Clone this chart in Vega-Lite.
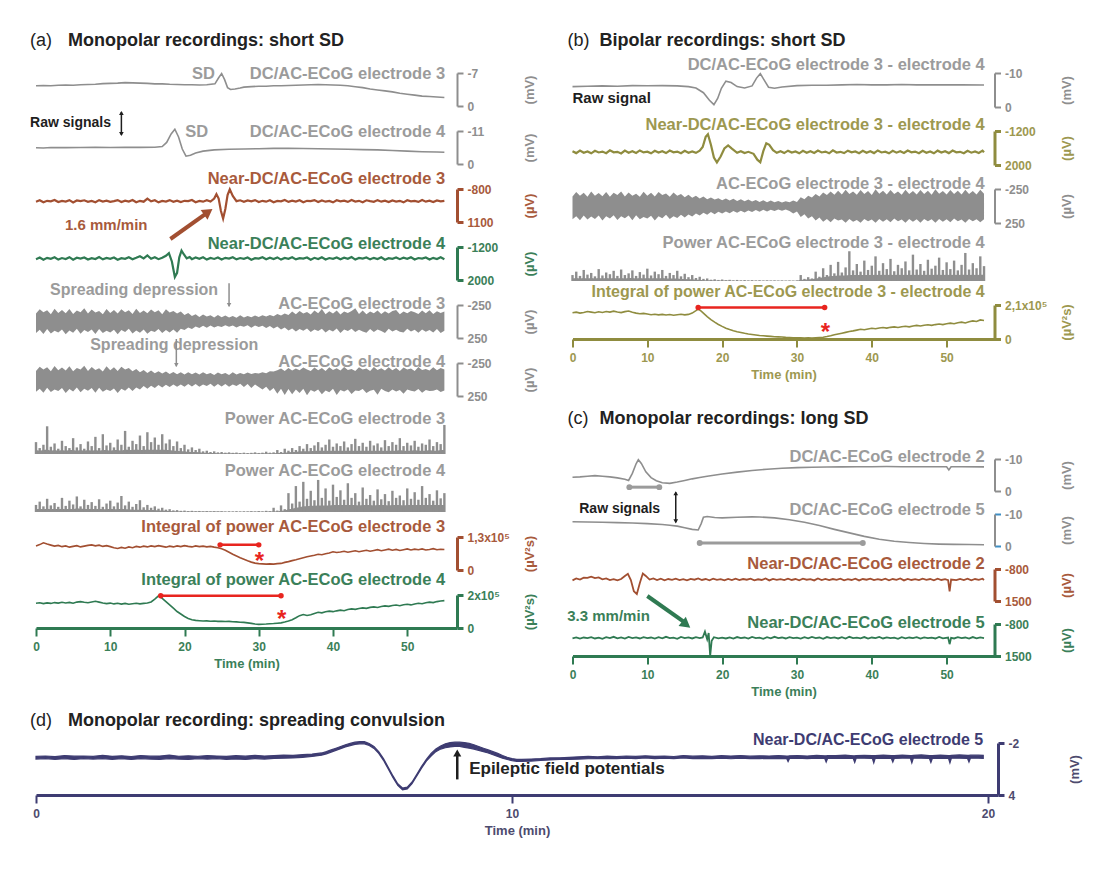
{
"$schema":"https://vega.github.io/schema/vega-lite/v6.json",
"padding":{"left":30,"top":31,"right":5,"bottom":5},
"background":"white",
"spacing":13,
"datasets":{
"a1":[{"t":0,"v":-4.3},{"t":1,"v":-4.35},{"t":2,"v":-4.3},{"t":3,"v":-4.4},{"t":4,"v":-4.45},{"t":5,"v":-4.4},{"t":6,"v":-4.5},{"t":7,"v":-4.55},{"t":8,"v":-4.6},{"t":9,"v":-4.75},{"t":10,"v":-4.8},{"t":11,"v":-4.85},{"t":12,"v":-4.95},{"t":13,"v":-4.9},{"t":14,"v":-4.85},{"t":15,"v":-4.8},{"t":16,"v":-4.7},{"t":17,"v":-4.7},{"t":18,"v":-4.6},{"t":19,"v":-4.55},{"t":20,"v":-4.5},{"t":21,"v":-4.5},{"t":22,"v":-4.45},{"t":23,"v":-4.5},{"t":24.1,"v":-4.7},{"t":24.6,"v":-6.0},{"t":25,"v":-6.9},{"t":25.4,"v":-5.6},{"t":25.8,"v":-3.9},{"t":26.2,"v":-3.5},{"t":26.8,"v":-3.6},{"t":27.5,"v":-3.8},{"t":28,"v":-4.0},{"t":29,"v":-4.1},{"t":30,"v":-4.2},{"t":31,"v":-4.2},{"t":32,"v":-4.3},{"t":33,"v":-4.3},{"t":34,"v":-4.35},{"t":35,"v":-4.4},{"t":36,"v":-4.45},{"t":37,"v":-4.5},{"t":38,"v":-4.55},{"t":39,"v":-4.5},{"t":40,"v":-4.45},{"t":41,"v":-4.4},{"t":42,"v":-4.3},{"t":43,"v":-4.1},{"t":44,"v":-3.9},{"t":45,"v":-3.6},{"t":46,"v":-3.4},{"t":47,"v":-3.2},{"t":48,"v":-3.0},{"t":49,"v":-2.7},{"t":50,"v":-2.5},{"t":51,"v":-2.3},{"t":52,"v":-2.1},{"t":53,"v":-2.0},{"t":54,"v":-1.9},{"t":55,"v":-1.8}],
"a2":[{"t":0,"v":-5.4},{"t":1,"v":-5.35},{"t":2,"v":-5.5},{"t":3,"v":-5.45},{"t":4,"v":-5.45},{"t":6,"v":-5.5},{"t":8,"v":-5.55},{"t":10,"v":-5.5},{"t":12,"v":-5.6},{"t":14,"v":-5.55},{"t":16,"v":-5.6},{"t":17,"v":-5.8},{"t":17.6,"v":-7.2},{"t":18.2,"v":-10.0},{"t":18.7,"v":-11.6},{"t":19.2,"v":-9.0},{"t":19.7,"v":-5.0},{"t":20.2,"v":-2.6},{"t":20.8,"v":-2.9},{"t":21.5,"v":-3.7},{"t":22.5,"v":-4.3},{"t":24,"v":-4.7},{"t":26,"v":-4.9},{"t":28,"v":-5.0},{"t":30,"v":-5.1},{"t":32,"v":-5.2},{"t":34,"v":-5.2},{"t":36,"v":-5.15},{"t":38,"v":-5.1},{"t":40,"v":-5.0},{"t":42,"v":-4.9},{"t":44,"v":-4.8},{"t":46,"v":-4.7},{"t":48,"v":-4.5},{"t":50,"v":-4.3},{"t":52,"v":-4.1},{"t":54,"v":-4.0},{"t":55,"v":-3.9}],
"a3":[{"t":0,"v":-70},{"t":0.5,"v":-150},{"t":1,"v":-40},{"t":1.5,"v":-120},{"t":2,"v":-90},{"t":2.5,"v":-170},{"t":3,"v":-50},{"t":3.5,"v":-110},{"t":4,"v":-80},{"t":4.5,"v":-160},{"t":5,"v":-30},{"t":5.5,"v":-140},{"t":6,"v":-100},{"t":6.5,"v":-150},{"t":7,"v":-60},{"t":7.5,"v":-110},{"t":8,"v":-40},{"t":8.5,"v":-160},{"t":9,"v":-80},{"t":9.5,"v":-130},{"t":10,"v":-60},{"t":10.5,"v":-100},{"t":11,"v":-160},{"t":11.5,"v":-50},{"t":12,"v":-130},{"t":12.5,"v":-80},{"t":13,"v":-170},{"t":13.5,"v":-40},{"t":14,"v":-120},{"t":14.5,"v":-70},{"t":15,"v":-250},{"t":15.5,"v":-90},{"t":16,"v":-150},{"t":16.5,"v":-30},{"t":17,"v":-110},{"t":17.5,"v":-80},{"t":18,"v":-160},{"t":18.5,"v":-60},{"t":19,"v":-130},{"t":19.5,"v":-50},{"t":20,"v":-120},{"t":20.5,"v":-100},{"t":21,"v":-170},{"t":21.5,"v":-40},{"t":22,"v":-110},{"t":22.5,"v":-70},{"t":23,"v":-150},{"t":23.5,"v":-80},{"t":24,"v":-250},{"t":24.3,"v":-500},{"t":24.6,"v":-250},{"t":24.9,"v":450},{"t":25.2,"v":900},{"t":25.5,"v":350},{"t":25.8,"v":-450},{"t":26.1,"v":-780},{"t":26.5,"v":-400},{"t":27,"v":-100},{"t":27.5,"v":-150},{"t":28,"v":-60},{"t":28.5,"v":-140},{"t":29,"v":-90},{"t":29.5,"v":-160},{"t":30,"v":-50},{"t":30.5,"v":-120},{"t":31,"v":-70},{"t":31.5,"v":-150},{"t":32,"v":-40},{"t":32.5,"v":-110},{"t":33,"v":-90},{"t":33.5,"v":-170},{"t":34,"v":-60},{"t":34.5,"v":-130},{"t":35,"v":-80},{"t":35.5,"v":-150},{"t":36,"v":-40},{"t":36.5,"v":-120},{"t":37,"v":-100},{"t":37.5,"v":-160},{"t":38,"v":-50},{"t":38.5,"v":-140},{"t":39,"v":-70},{"t":39.5,"v":-110},{"t":40,"v":-30},{"t":40.5,"v":-150},{"t":41,"v":-90},{"t":41.5,"v":-130},{"t":42,"v":-60},{"t":42.5,"v":-170},{"t":43,"v":-80},{"t":43.5,"v":-120},{"t":44,"v":-40},{"t":44.5,"v":-150},{"t":45,"v":-100},{"t":45.5,"v":-60},{"t":46,"v":-160},{"t":46.5,"v":-70},{"t":47,"v":-130},{"t":47.5,"v":-50},{"t":48,"v":-140},{"t":48.5,"v":-80},{"t":49,"v":-120},{"t":49.5,"v":-30},{"t":50,"v":-150},{"t":50.5,"v":-90},{"t":51,"v":-110},{"t":51.5,"v":-60},{"t":52,"v":-170},{"t":52.5,"v":-70},{"t":53,"v":-130},{"t":53.5,"v":-50},{"t":54,"v":-140},{"t":54.5,"v":-90},{"t":55,"v":-120}],
"a4":[{"t":0,"v":-20},{"t":0.5,"v":-180},{"t":1,"v":40},{"t":1.5,"v":-150},{"t":2,"v":-60},{"t":2.5,"v":-200},{"t":3,"v":20},{"t":3.5,"v":-130},{"t":4,"v":-40},{"t":4.5,"v":-210},{"t":5,"v":30},{"t":5.5,"v":-160},{"t":6,"v":-70},{"t":6.5,"v":-190},{"t":7,"v":10},{"t":7.5,"v":-120},{"t":8,"v":-30},{"t":8.5,"v":-220},{"t":9,"v":0},{"t":9.5,"v":-140},{"t":10,"v":-50},{"t":10.5,"v":-180},{"t":11,"v":40},{"t":11.5,"v":-110},{"t":12,"v":-60},{"t":12.5,"v":-200},{"t":13,"v":-10},{"t":13.5,"v":-150},{"t":14,"v":-300},{"t":14.5,"v":-100},{"t":15,"v":-380},{"t":15.5,"v":-60},{"t":16,"v":-200},{"t":16.5,"v":-20},{"t":17,"v":-150},{"t":17.5,"v":-350},{"t":17.9,"v":-600},{"t":18.3,"v":200},{"t":18.7,"v":1700},{"t":19.0,"v":1300},{"t":19.3,"v":-200},{"t":19.6,"v":-850},{"t":19.9,"v":-500},{"t":20.3,"v":-100},{"t":20.7,"v":-220},{"t":21,"v":-20},{"t":21.5,"v":-180},{"t":22,"v":-60},{"t":22.5,"v":-200},{"t":23,"v":20},{"t":23.5,"v":-140},{"t":24,"v":-40},{"t":24.5,"v":-190},{"t":25,"v":10},{"t":25.5,"v":-150},{"t":26,"v":-80},{"t":26.5,"v":-210},{"t":27,"v":0},{"t":27.5,"v":-130},{"t":28,"v":-50},{"t":28.5,"v":-180},{"t":29,"v":30},{"t":29.5,"v":-120},{"t":30,"v":-70},{"t":30.5,"v":-200},{"t":31,"v":-10},{"t":31.5,"v":-160},{"t":32,"v":-40},{"t":32.5,"v":-190},{"t":33,"v":20},{"t":33.5,"v":-140},{"t":34,"v":-60},{"t":34.5,"v":-210},{"t":35,"v":0},{"t":35.5,"v":-120},{"t":36,"v":-80},{"t":36.5,"v":-180},{"t":37,"v":30},{"t":37.5,"v":-150},{"t":38,"v":-30},{"t":38.5,"v":-200},{"t":39,"v":10},{"t":39.5,"v":-130},{"t":40,"v":-60},{"t":40.5,"v":-190},{"t":41,"v":-10},{"t":41.5,"v":-160},{"t":42,"v":-50},{"t":42.5,"v":-220},{"t":43,"v":20},{"t":43.5,"v":-140},{"t":44,"v":-70},{"t":44.5,"v":-180},{"t":45,"v":0},{"t":45.5,"v":-150},{"t":46,"v":-40},{"t":46.5,"v":-200},{"t":47,"v":30},{"t":47.5,"v":-120},{"t":48,"v":-60},{"t":48.5,"v":-190},{"t":49,"v":-20},{"t":49.5,"v":-160},{"t":50,"v":-50},{"t":50.5,"v":-210},{"t":51,"v":10},{"t":51.5,"v":-130},{"t":52,"v":-80},{"t":52.5,"v":-180},{"t":53,"v":20},{"t":53.5,"v":-150},{"t":54,"v":-40},{"t":54.5,"v":-200},{"t":55,"v":-10}],
"a5":[{"t":0,"v":-120,"v2":175},{"t":0.5,"v":-185,"v2":125},{"t":1,"v":-140,"v2":190},{"t":1.5,"v":-170,"v2":115},{"t":2,"v":-110,"v2":180},{"t":2.5,"v":-195,"v2":140},{"t":3,"v":-130,"v2":165},{"t":3.5,"v":-175,"v2":120},{"t":4,"v":-125,"v2":195},{"t":4.5,"v":-190,"v2":135},{"t":5,"v":-115,"v2":170},{"t":5.5,"v":-165,"v2":110},{"t":6,"v":-140,"v2":185},{"t":6.5,"v":-200,"v2":130},{"t":7,"v":-120,"v2":160},{"t":7.5,"v":-180,"v2":120},{"t":8,"v":-135,"v2":190},{"t":8.5,"v":-160,"v2":115},{"t":9,"v":-110,"v2":175},{"t":9.5,"v":-190,"v2":140},{"t":10,"v":-130,"v2":165},{"t":10.5,"v":-175,"v2":125},{"t":11,"v":-120,"v2":195},{"t":11.5,"v":-185,"v2":130},{"t":12,"v":-140,"v2":160},{"t":12.5,"v":-170,"v2":110},{"t":13,"v":-115,"v2":180},{"t":13.5,"v":-195,"v2":135},{"t":14,"v":-130,"v2":170},{"t":14.5,"v":-165,"v2":120},{"t":15,"v":-125,"v2":185},{"t":15.5,"v":-180,"v2":140},{"t":16,"v":-140,"v2":160},{"t":16.5,"v":-170,"v2":115},{"t":17,"v":-110,"v2":175},{"t":17.5,"v":-185,"v2":130},{"t":18,"v":-135,"v2":165},{"t":18.5,"v":-160,"v2":120},{"t":19,"v":-120,"v2":170},{"t":19.5,"v":-150,"v2":110},{"t":20,"v":-100,"v2":130},{"t":20.5,"v":-130,"v2":90},{"t":21,"v":-85,"v2":115},{"t":21.5,"v":-110,"v2":75},{"t":22,"v":-70,"v2":100},{"t":22.5,"v":-105,"v2":65},{"t":23,"v":-75,"v2":95},{"t":23.5,"v":-95,"v2":60},{"t":24,"v":-60,"v2":90},{"t":24.5,"v":-100,"v2":70},{"t":25,"v":-65,"v2":85},{"t":25.5,"v":-90,"v2":55},{"t":26,"v":-60,"v2":80},{"t":26.5,"v":-85,"v2":60},{"t":27,"v":-55,"v2":90},{"t":27.5,"v":-95,"v2":65},{"t":28,"v":-60,"v2":80},{"t":28.5,"v":-85,"v2":55},{"t":29,"v":-65,"v2":95},{"t":29.5,"v":-90,"v2":60},{"t":30,"v":-70,"v2":85},{"t":30.5,"v":-95,"v2":65},{"t":31,"v":-75,"v2":100},{"t":31.5,"v":-100,"v2":70},{"t":32,"v":-80,"v2":105},{"t":32.5,"v":-115,"v2":75},{"t":33,"v":-90,"v2":120},{"t":33.5,"v":-120,"v2":90},{"t":34,"v":-100,"v2":135},{"t":34.5,"v":-150,"v2":105},{"t":35,"v":-110,"v2":150},{"t":35.5,"v":-160,"v2":115},{"t":36,"v":-120,"v2":140},{"t":36.5,"v":-145,"v2":105},{"t":37,"v":-105,"v2":160},{"t":37.5,"v":-165,"v2":120},{"t":38,"v":-125,"v2":145},{"t":38.5,"v":-190,"v2":110},{"t":39,"v":-110,"v2":165},{"t":39.5,"v":-155,"v2":125},{"t":40,"v":-120,"v2":150},{"t":40.5,"v":-165,"v2":105},{"t":41,"v":-105,"v2":175},{"t":41.5,"v":-150,"v2":120},{"t":42,"v":-130,"v2":145},{"t":42.5,"v":-160,"v2":110},{"t":43,"v":-200,"v2":160},{"t":43.5,"v":-115,"v2":125},{"t":44,"v":-165,"v2":150},{"t":44.5,"v":-110,"v2":170},{"t":45,"v":-150,"v2":115},{"t":45.5,"v":-125,"v2":160},{"t":46,"v":-165,"v2":120},{"t":46.5,"v":-115,"v2":145},{"t":47,"v":-155,"v2":175},{"t":47.5,"v":-120,"v2":110},{"t":48,"v":-160,"v2":150},{"t":48.5,"v":-175,"v2":125},{"t":49,"v":-110,"v2":155},{"t":49.5,"v":-150,"v2":165},{"t":50,"v":-125,"v2":110},{"t":50.5,"v":-160,"v2":150},{"t":51,"v":-140,"v2":125},{"t":51.5,"v":-115,"v2":170},{"t":52,"v":-165,"v2":120},{"t":52.5,"v":-125,"v2":155},{"t":53,"v":-170,"v2":130},{"t":53.5,"v":-115,"v2":165},{"t":54,"v":-155,"v2":115},{"t":54.5,"v":-130,"v2":175},{"t":55,"v":-150,"v2":140}],
"a6":[{"t":0,"v":-130,"v2":185},{"t":0.5,"v":-195,"v2":140},{"t":1,"v":-150,"v2":200},{"t":1.5,"v":-185,"v2":125},{"t":2,"v":-125,"v2":190},{"t":2.5,"v":-205,"v2":150},{"t":3,"v":-140,"v2":175},{"t":3.5,"v":-180,"v2":130},{"t":4,"v":-135,"v2":205},{"t":4.5,"v":-200,"v2":145},{"t":5,"v":-125,"v2":180},{"t":5.5,"v":-175,"v2":120},{"t":6,"v":-150,"v2":195},{"t":6.5,"v":-210,"v2":140},{"t":7,"v":-130,"v2":170},{"t":7.5,"v":-190,"v2":130},{"t":8,"v":-145,"v2":200},{"t":8.5,"v":-170,"v2":125},{"t":9,"v":-120,"v2":185},{"t":9.5,"v":-200,"v2":150},{"t":10,"v":-140,"v2":175},{"t":10.5,"v":-185,"v2":135},{"t":11,"v":-130,"v2":205},{"t":11.5,"v":-195,"v2":140},{"t":12,"v":-150,"v2":170},{"t":12.5,"v":-175,"v2":120},{"t":13,"v":-125,"v2":175},{"t":13.5,"v":-160,"v2":120},{"t":14,"v":-110,"v2":150},{"t":14.5,"v":-145,"v2":100},{"t":15,"v":-100,"v2":140},{"t":15.5,"v":-135,"v2":95},{"t":16,"v":-95,"v2":130},{"t":16.5,"v":-125,"v2":85},{"t":17,"v":-90,"v2":120},{"t":17.5,"v":-120,"v2":80},{"t":18,"v":-85,"v2":115},{"t":18.5,"v":-115,"v2":75},{"t":19,"v":-80,"v2":110},{"t":19.5,"v":-110,"v2":75},{"t":20,"v":-75,"v2":110},{"t":20.5,"v":-110,"v2":70},{"t":21,"v":-80,"v2":105},{"t":21.5,"v":-105,"v2":70},{"t":22,"v":-75,"v2":110},{"t":22.5,"v":-110,"v2":75},{"t":23,"v":-80,"v2":100},{"t":23.5,"v":-100,"v2":65},{"t":24,"v":-70,"v2":110},{"t":24.5,"v":-105,"v2":70},{"t":25,"v":-80,"v2":105},{"t":25.5,"v":-100,"v2":70},{"t":26,"v":-70,"v2":110},{"t":26.5,"v":-110,"v2":75},{"t":27,"v":-75,"v2":100},{"t":27.5,"v":-100,"v2":65},{"t":28,"v":-80,"v2":115},{"t":28.5,"v":-105,"v2":70},{"t":29,"v":-85,"v2":130},{"t":29.5,"v":-100,"v2":75},{"t":30,"v":-90,"v2":115},{"t":30.5,"v":-110,"v2":150},{"t":31,"v":-95,"v2":110},{"t":31.5,"v":-125,"v2":175},{"t":32,"v":-120,"v2":130},{"t":32.5,"v":-140,"v2":215},{"t":33,"v":-165,"v2":140},{"t":33.5,"v":-130,"v2":235},{"t":34,"v":-175,"v2":145},{"t":34.5,"v":-135,"v2":225},{"t":35,"v":-165,"v2":150},{"t":35.5,"v":-140,"v2":205},{"t":36,"v":-180,"v2":140},{"t":36.5,"v":-150,"v2":240},{"t":37,"v":-130,"v2":160},{"t":37.5,"v":-180,"v2":185},{"t":38,"v":-140,"v2":150},{"t":38.5,"v":-175,"v2":225},{"t":39,"v":-130,"v2":165},{"t":39.5,"v":-185,"v2":195},{"t":40,"v":-145,"v2":140},{"t":40.5,"v":-170,"v2":235},{"t":41,"v":-135,"v2":160},{"t":41.5,"v":-190,"v2":180},{"t":42,"v":-145,"v2":150},{"t":42.5,"v":-160,"v2":220},{"t":43,"v":-130,"v2":165},{"t":43.5,"v":-185,"v2":175},{"t":44,"v":-150,"v2":145},{"t":44.5,"v":-165,"v2":205},{"t":45,"v":-130,"v2":170},{"t":45.5,"v":-190,"v2":155},{"t":46,"v":-145,"v2":230},{"t":46.5,"v":-170,"v2":140},{"t":47,"v":-135,"v2":175},{"t":47.5,"v":-185,"v2":195},{"t":48,"v":-140,"v2":150},{"t":48.5,"v":-175,"v2":180},{"t":49,"v":-130,"v2":160},{"t":49.5,"v":-180,"v2":215},{"t":50,"v":-150,"v2":150},{"t":50.5,"v":-165,"v2":170},{"t":51,"v":-130,"v2":180},{"t":51.5,"v":-190,"v2":145},{"t":52,"v":-145,"v2":200},{"t":52.5,"v":-160,"v2":160},{"t":53,"v":-135,"v2":175},{"t":53.5,"v":-185,"v2":170},{"t":54,"v":-140,"v2":150},{"t":54.5,"v":-175,"v2":190},{"t":55,"v":-150,"v2":165}],
"a7":[{"t":0,"v":18000,"b":6000},{"t":0.5,"v":9000,"b":5000},{"t":1,"v":14000,"b":6000},{"t":1.5,"v":42000,"b":7000},{"t":2,"v":11000,"b":5000},{"t":2.5,"v":16000,"b":6000},{"t":3,"v":8000,"b":5000},{"t":3.5,"v":20000,"b":6000},{"t":4,"v":12000,"b":5000},{"t":4.5,"v":9000,"b":6000},{"t":5,"v":24000,"b":6000},{"t":5.5,"v":10000,"b":5000},{"t":6,"v":15000,"b":6000},{"t":6.5,"v":8000,"b":5000},{"t":7,"v":19000,"b":6000},{"t":7.5,"v":12000,"b":5000},{"t":8,"v":26000,"b":6000},{"t":8.5,"v":9000,"b":5000},{"t":9,"v":30000,"b":6000},{"t":9.5,"v":13000,"b":6000},{"t":10,"v":17000,"b":5000},{"t":10.5,"v":10000,"b":6000},{"t":11,"v":22000,"b":6000},{"t":11.5,"v":14000,"b":5000},{"t":12,"v":35000,"b":7000},{"t":12.5,"v":11000,"b":6000},{"t":13,"v":20000,"b":6000},{"t":13.5,"v":15000,"b":7000},{"t":14,"v":28000,"b":6000},{"t":14.5,"v":12000,"b":6000},{"t":15,"v":33000,"b":7000},{"t":15.5,"v":18000,"b":6000},{"t":16,"v":25000,"b":7000},{"t":16.5,"v":14000,"b":6000},{"t":17,"v":30000,"b":7000},{"t":17.5,"v":16000,"b":6000},{"t":18,"v":22000,"b":6000},{"t":18.5,"v":12000,"b":5000},{"t":19,"v":19000,"b":5000},{"t":19.5,"v":9000,"b":4000},{"t":20,"v":14000,"b":4000},{"t":20.5,"v":7000,"b":3000},{"t":21,"v":10000,"b":3000},{"t":21.5,"v":6000,"b":3000},{"t":22,"v":8000,"b":2500},{"t":22.5,"v":4000,"b":2000},{"t":23,"v":5000,"b":2000},{"t":23.5,"v":3000,"b":1500},{"t":24,"v":4000,"b":1500},{"t":24.5,"v":2500,"b":1200},{"t":25,"v":3000,"b":1200},{"t":25.5,"v":2000,"b":1000},{"t":26,"v":2500,"b":1000},{"t":26.5,"v":1800,"b":1000},{"t":27,"v":2200,"b":1000},{"t":27.5,"v":1500,"b":900},{"t":28,"v":2000,"b":900},{"t":28.5,"v":1500,"b":900},{"t":29,"v":1800,"b":900},{"t":29.5,"v":2500,"b":1000},{"t":30,"v":1600,"b":900},{"t":30.5,"v":2000,"b":1000},{"t":31,"v":3500,"b":1200},{"t":31.5,"v":2000,"b":1000},{"t":32,"v":2500,"b":1200},{"t":32.5,"v":6000,"b":1500},{"t":33,"v":3000,"b":1500},{"t":33.5,"v":8000,"b":2000},{"t":34,"v":5000,"b":2500},{"t":34.5,"v":9000,"b":3000},{"t":35,"v":6000,"b":3000},{"t":35.5,"v":12000,"b":4000},{"t":36,"v":8000,"b":4000},{"t":36.5,"v":15000,"b":4000},{"t":37,"v":9000,"b":4000},{"t":37.5,"v":13000,"b":5000},{"t":38,"v":18000,"b":5000},{"t":38.5,"v":10000,"b":5000},{"t":39,"v":14000,"b":5000},{"t":39.5,"v":22000,"b":5000},{"t":40,"v":11000,"b":5000},{"t":40.5,"v":16000,"b":5000},{"t":41,"v":12000,"b":5000},{"t":41.5,"v":19000,"b":5000},{"t":42,"v":10000,"b":5000},{"t":42.5,"v":15000,"b":5000},{"t":43,"v":23000,"b":5000},{"t":43.5,"v":12000,"b":5000},{"t":44,"v":17000,"b":5000},{"t":44.5,"v":11000,"b":5000},{"t":45,"v":20000,"b":5000},{"t":45.5,"v":13000,"b":5000},{"t":46,"v":16000,"b":5000},{"t":46.5,"v":10000,"b":5000},{"t":47,"v":21000,"b":5000},{"t":47.5,"v":12000,"b":5000},{"t":48,"v":18000,"b":5000},{"t":48.5,"v":14000,"b":5000},{"t":49,"v":24000,"b":6000},{"t":49.5,"v":12000,"b":5000},{"t":50,"v":17000,"b":5000},{"t":50.5,"v":13000,"b":5000},{"t":51,"v":20000,"b":6000},{"t":51.5,"v":11000,"b":5000},{"t":52,"v":16000,"b":5000},{"t":52.5,"v":14000,"b":5000},{"t":53,"v":22000,"b":6000},{"t":53.5,"v":12000,"b":5000},{"t":54,"v":18000,"b":5000},{"t":54.5,"v":15000,"b":6000},{"t":55,"v":44000,"b":6000}],
"a8":[{"t":0,"v":15000,"b":6000},{"t":0.5,"v":22000,"b":7000},{"t":1,"v":12000,"b":6000},{"t":1.5,"v":28000,"b":7000},{"t":2,"v":14000,"b":6000},{"t":2.5,"v":19000,"b":7000},{"t":3,"v":11000,"b":6000},{"t":3.5,"v":30000,"b":7000},{"t":4,"v":13000,"b":6000},{"t":4.5,"v":24000,"b":7000},{"t":5,"v":16000,"b":6000},{"t":5.5,"v":33000,"b":8000},{"t":6,"v":12000,"b":7000},{"t":6.5,"v":26000,"b":7000},{"t":7,"v":15000,"b":6000},{"t":7.5,"v":21000,"b":7000},{"t":8,"v":13000,"b":6000},{"t":8.5,"v":27000,"b":7000},{"t":9,"v":11000,"b":6000},{"t":9.5,"v":18000,"b":6000},{"t":10,"v":24000,"b":7000},{"t":10.5,"v":12000,"b":6000},{"t":11,"v":20000,"b":6000},{"t":11.5,"v":34000,"b":7000},{"t":12,"v":14000,"b":6000},{"t":12.5,"v":22000,"b":6000},{"t":13,"v":11000,"b":5000},{"t":13.5,"v":17000,"b":5000},{"t":14,"v":25000,"b":5000},{"t":14.5,"v":10000,"b":5000},{"t":15,"v":15000,"b":4000},{"t":15.5,"v":9000,"b":4000},{"t":16,"v":12000,"b":4000},{"t":16.5,"v":7000,"b":3000},{"t":17,"v":9000,"b":3000},{"t":17.5,"v":5000,"b":2500},{"t":18,"v":6000,"b":2000},{"t":18.5,"v":3500,"b":1500},{"t":19,"v":4000,"b":1500},{"t":19.5,"v":2500,"b":1200},{"t":20,"v":3000,"b":1200},{"t":20.5,"v":2000,"b":1000},{"t":21,"v":2500,"b":1000},{"t":21.5,"v":1800,"b":900},{"t":22,"v":2200,"b":900},{"t":22.5,"v":1500,"b":800},{"t":23,"v":2000,"b":800},{"t":23.5,"v":1500,"b":800},{"t":24,"v":1800,"b":800},{"t":24.5,"v":1400,"b":800},{"t":25,"v":1700,"b":800},{"t":25.5,"v":1300,"b":700},{"t":26,"v":1600,"b":700},{"t":26.5,"v":1400,"b":700},{"t":27,"v":1800,"b":700},{"t":27.5,"v":1300,"b":700},{"t":28,"v":1600,"b":700},{"t":28.5,"v":1500,"b":700},{"t":29,"v":1800,"b":800},{"t":29.5,"v":1400,"b":700},{"t":30,"v":2000,"b":800},{"t":30.5,"v":1600,"b":700},{"t":31,"v":2500,"b":800},{"t":31.5,"v":1800,"b":800},{"t":32,"v":9000,"b":1500},{"t":32.5,"v":3000,"b":1200},{"t":33,"v":14000,"b":2500},{"t":33.5,"v":6000,"b":3000},{"t":34,"v":40000,"b":6000},{"t":34.5,"v":18000,"b":7000},{"t":35,"v":55000,"b":9000},{"t":35.5,"v":22000,"b":10000},{"t":36,"v":64000,"b":12000},{"t":36.5,"v":28000,"b":12000},{"t":37,"v":45000,"b":13000},{"t":37.5,"v":25000,"b":13000},{"t":38,"v":68000,"b":14000},{"t":38.5,"v":30000,"b":14000},{"t":39,"v":50000,"b":14000},{"t":39.5,"v":24000,"b":14000},{"t":40,"v":58000,"b":15000},{"t":40.5,"v":32000,"b":15000},{"t":41,"v":46000,"b":15000},{"t":41.5,"v":26000,"b":15000},{"t":42,"v":61000,"b":15000},{"t":42.5,"v":30000,"b":15000},{"t":43,"v":40000,"b":15000},{"t":43.5,"v":22000,"b":14000},{"t":44,"v":52000,"b":15000},{"t":44.5,"v":28000,"b":15000},{"t":45,"v":36000,"b":15000},{"t":45.5,"v":24000,"b":14000},{"t":46,"v":48000,"b":15000},{"t":46.5,"v":27000,"b":15000},{"t":47,"v":38000,"b":15000},{"t":47.5,"v":23000,"b":14000},{"t":48,"v":45000,"b":15000},{"t":48.5,"v":30000,"b":15000},{"t":49,"v":35000,"b":15000},{"t":49.5,"v":25000,"b":14000},{"t":50,"v":50000,"b":15000},{"t":50.5,"v":28000,"b":15000},{"t":51,"v":42000,"b":15000},{"t":51.5,"v":26000,"b":15000},{"t":52,"v":55000,"b":15000},{"t":52.5,"v":30000,"b":15000},{"t":53,"v":38000,"b":15000},{"t":53.5,"v":24000,"b":15000},{"t":54,"v":46000,"b":15000},{"t":54.5,"v":29000,"b":15000},{"t":55,"v":40000,"b":15000}],
"a9":[{"t":0,"v":95000},{"t":0.5,"v":100000},{"t":1,"v":107000},{"t":1.5,"v":102000},{"t":2,"v":98000},{"t":2.5,"v":94000},{"t":3,"v":97000},{"t":3.5,"v":92000},{"t":4,"v":95000},{"t":4.5,"v":90000},{"t":5,"v":93000},{"t":5.5,"v":96000},{"t":6,"v":91000},{"t":6.5,"v":94000},{"t":7,"v":97000},{"t":7.5,"v":99000},{"t":8,"v":95000},{"t":8.5,"v":98000},{"t":9,"v":93000},{"t":9.5,"v":96000},{"t":10,"v":92000},{"t":10.5,"v":88000},{"t":11,"v":85000},{"t":11.5,"v":89000},{"t":12,"v":86000},{"t":12.5,"v":91000},{"t":13,"v":88000},{"t":13.5,"v":93000},{"t":14,"v":90000},{"t":14.5,"v":94000},{"t":15,"v":91000},{"t":15.5,"v":95000},{"t":16,"v":92000},{"t":16.5,"v":96000},{"t":17,"v":93000},{"t":17.5,"v":90000},{"t":18,"v":94000},{"t":18.5,"v":91000},{"t":19,"v":95000},{"t":19.5,"v":92000},{"t":20,"v":96000},{"t":20.5,"v":93000},{"t":21,"v":91000},{"t":21.5,"v":95000},{"t":22,"v":92000},{"t":22.5,"v":94000},{"t":23,"v":91000},{"t":23.5,"v":93000},{"t":24,"v":90000},{"t":24.5,"v":88000},{"t":25,"v":84000},{"t":25.5,"v":78000},{"t":26,"v":70000},{"t":26.5,"v":62000},{"t":27,"v":55000},{"t":27.5,"v":48000},{"t":28,"v":42000},{"t":28.5,"v":36000},{"t":29,"v":31000},{"t":29.5,"v":27000},{"t":30,"v":25000},{"t":30.5,"v":24000},{"t":31,"v":23000},{"t":31.5,"v":24000},{"t":32,"v":23000},{"t":32.5,"v":25000},{"t":33,"v":26000},{"t":33.5,"v":30000},{"t":34,"v":33000},{"t":34.5,"v":37000},{"t":35,"v":40000},{"t":35.5,"v":44000},{"t":36,"v":48000},{"t":36.5,"v":52000},{"t":37,"v":55000},{"t":37.5,"v":58000},{"t":38,"v":62000},{"t":38.5,"v":60000},{"t":39,"v":64000},{"t":39.5,"v":67000},{"t":40,"v":72000},{"t":40.5,"v":69000},{"t":41,"v":71000},{"t":41.5,"v":74000},{"t":42,"v":70000},{"t":42.5,"v":73000},{"t":43,"v":76000},{"t":43.5,"v":72000},{"t":44,"v":75000},{"t":44.5,"v":78000},{"t":45,"v":74000},{"t":45.5,"v":77000},{"t":46,"v":80000},{"t":46.5,"v":76000},{"t":47,"v":79000},{"t":47.5,"v":82000},{"t":48,"v":78000},{"t":48.5,"v":81000},{"t":49,"v":77000},{"t":49.5,"v":80000},{"t":50,"v":83000},{"t":50.5,"v":79000},{"t":51,"v":82000},{"t":51.5,"v":80000},{"t":52,"v":83000},{"t":52.5,"v":79000},{"t":53,"v":81000},{"t":53.5,"v":84000},{"t":54,"v":80000},{"t":54.5,"v":82000},{"t":55,"v":81000}],
"a10":[{"t":0,"v":150000},{"t":0.5,"v":153000},{"t":1,"v":148000},{"t":1.5,"v":152000},{"t":2,"v":149000},{"t":2.5,"v":154000},{"t":3,"v":151000},{"t":3.5,"v":156000},{"t":4,"v":152000},{"t":4.5,"v":155000},{"t":5,"v":150000},{"t":5.5,"v":157000},{"t":6,"v":160000},{"t":6.5,"v":156000},{"t":7,"v":153000},{"t":7.5,"v":158000},{"t":8,"v":162000},{"t":8.5,"v":157000},{"t":9,"v":152000},{"t":9.5,"v":148000},{"t":10,"v":151000},{"t":10.5,"v":146000},{"t":11,"v":150000},{"t":11.5,"v":145000},{"t":12,"v":149000},{"t":12.5,"v":144000},{"t":13,"v":147000},{"t":13.5,"v":150000},{"t":14,"v":146000},{"t":14.5,"v":149000},{"t":15,"v":152000},{"t":15.5,"v":158000},{"t":16,"v":175000},{"t":16.5,"v":195000},{"t":17,"v":180000},{"t":17.5,"v":160000},{"t":18,"v":140000},{"t":18.5,"v":120000},{"t":19,"v":100000},{"t":19.5,"v":85000},{"t":20,"v":70000},{"t":20.5,"v":58000},{"t":21,"v":50000},{"t":21.5,"v":46000},{"t":22,"v":44000},{"t":22.5,"v":42000},{"t":23,"v":43000},{"t":23.5,"v":41000},{"t":24,"v":42000},{"t":24.5,"v":40000},{"t":25,"v":41000},{"t":25.5,"v":39000},{"t":26,"v":40000},{"t":26.5,"v":38000},{"t":27,"v":37000},{"t":27.5,"v":35000},{"t":28,"v":34000},{"t":28.5,"v":31000},{"t":29,"v":28000},{"t":29.5,"v":24000},{"t":30,"v":22000},{"t":30.5,"v":23000},{"t":31,"v":24000},{"t":31.5,"v":26000},{"t":32,"v":27000},{"t":32.5,"v":29000},{"t":33,"v":31000},{"t":33.5,"v":36000},{"t":34,"v":42000},{"t":34.5,"v":50000},{"t":35,"v":62000},{"t":35.5,"v":75000},{"t":36,"v":82000},{"t":36.5,"v":76000},{"t":37,"v":80000},{"t":37.5,"v":88000},{"t":38,"v":95000},{"t":38.5,"v":92000},{"t":39,"v":98000},{"t":39.5,"v":102000},{"t":40,"v":99000},{"t":40.5,"v":104000},{"t":41,"v":108000},{"t":41.5,"v":105000},{"t":42,"v":112000},{"t":42.5,"v":116000},{"t":43,"v":113000},{"t":43.5,"v":118000},{"t":44,"v":122000},{"t":44.5,"v":119000},{"t":45,"v":125000},{"t":45.5,"v":128000},{"t":46,"v":124000},{"t":46.5,"v":130000},{"t":47,"v":134000},{"t":47.5,"v":131000},{"t":48,"v":136000},{"t":48.5,"v":139000},{"t":49,"v":135000},{"t":49.5,"v":141000},{"t":50,"v":144000},{"t":50.5,"v":140000},{"t":51,"v":146000},{"t":51.5,"v":150000},{"t":52,"v":147000},{"t":52.5,"v":153000},{"t":53,"v":157000},{"t":53.5,"v":154000},{"t":54,"v":160000},{"t":54.5,"v":164000},{"t":55,"v":166000}],
"b1":[{"t":0,"v":-6.0},{"t":2,"v":-6.1},{"t":4,"v":-6.2},{"t":6,"v":-6.1},{"t":8,"v":-6.3},{"t":10,"v":-6.25},{"t":12,"v":-6.3},{"t":14,"v":-6.2},{"t":15.5,"v":-6.0},{"t":16.5,"v":-5.6},{"t":17.5,"v":-4.2},{"t":18.3,"v":-2.0},{"t":18.9,"v":-0.7},{"t":19.4,"v":-2.5},{"t":19.9,"v":-5.5},{"t":20.5,"v":-7.6},{"t":21.2,"v":-7.2},{"t":22,"v":-6.0},{"t":23,"v":-5.6},{"t":24,"v":-6.2},{"t":24.6,"v":-8.5},{"t":25.1,"v":-9.8},{"t":25.6,"v":-8.0},{"t":26.2,"v":-5.8},{"t":27,"v":-5.5},{"t":28,"v":-5.9},{"t":30,"v":-6.3},{"t":32,"v":-6.4},{"t":34,"v":-6.4},{"t":36,"v":-6.5},{"t":38,"v":-6.6},{"t":40,"v":-6.5},{"t":42,"v":-6.5},{"t":44,"v":-6.6},{"t":46,"v":-6.5},{"t":48,"v":-6.5},{"t":50,"v":-6.55},{"t":52,"v":-6.5},{"t":55,"v":-6.45}],
"b2":[{"t":0,"v":700},{"t":0.5,"v":880},{"t":1,"v":640},{"t":1.5,"v":850},{"t":2,"v":720},{"t":2.5,"v":900},{"t":3,"v":660},{"t":3.5,"v":820},{"t":4,"v":740},{"t":4.5,"v":890},{"t":5,"v":620},{"t":5.5,"v":800},{"t":6,"v":760},{"t":6.5,"v":910},{"t":7,"v":650},{"t":7.5,"v":840},{"t":8,"v":700},{"t":8.5,"v":870},{"t":9,"v":630},{"t":9.5,"v":810},{"t":10,"v":750},{"t":10.5,"v":900},{"t":11,"v":660},{"t":11.5,"v":830},{"t":12,"v":710},{"t":12.5,"v":880},{"t":13,"v":640},{"t":13.5,"v":800},{"t":14,"v":740},{"t":14.5,"v":890},{"t":15,"v":670},{"t":15.5,"v":850},{"t":16,"v":720},{"t":16.5,"v":860},{"t":17,"v":650},{"t":17.4,"v":300},{"t":17.8,"v":-650},{"t":18.1,"v":-900},{"t":18.5,"v":100},{"t":18.9,"v":1300},{"t":19.3,"v":1750},{"t":19.8,"v":1200},{"t":20.3,"v":450},{"t":20.8,"v":150},{"t":21.3,"v":450},{"t":22,"v":850},{"t":22.5,"v":700},{"t":23,"v":880},{"t":23.5,"v":760},{"t":24.2,"v":950},{"t":24.7,"v":1500},{"t":25.1,"v":1750},{"t":25.5,"v":700},{"t":25.9,"v":-50},{"t":26.3,"v":100},{"t":26.8,"v":600},{"t":27.3,"v":850},{"t":27.8,"v":700},{"t":28.3,"v":880},{"t":28.8,"v":650},{"t":29.3,"v":830},{"t":29.8,"v":720},{"t":30.3,"v":900},{"t":30.8,"v":660},{"t":31.3,"v":840},{"t":31.8,"v":700},{"t":32.3,"v":870},{"t":32.8,"v":640},{"t":33.3,"v":820},{"t":33.8,"v":740},{"t":34.3,"v":900},{"t":34.8,"v":620},{"t":35.3,"v":830},{"t":35.8,"v":760},{"t":36.3,"v":880},{"t":36.8,"v":650},{"t":37.3,"v":810},{"t":37.8,"v":720},{"t":38.3,"v":890},{"t":38.8,"v":660},{"t":39.3,"v":850},{"t":39.8,"v":700},{"t":40.3,"v":880},{"t":40.8,"v":630},{"t":41.3,"v":820},{"t":41.8,"v":750},{"t":42.3,"v":900},{"t":42.8,"v":670},{"t":43.3,"v":840},{"t":43.8,"v":710},{"t":44.3,"v":870},{"t":44.8,"v":640},{"t":45.3,"v":810},{"t":45.8,"v":740},{"t":46.3,"v":890},{"t":46.8,"v":660},{"t":47.3,"v":850},{"t":47.8,"v":720},{"t":48.3,"v":900},{"t":48.8,"v":650},{"t":49.3,"v":830},{"t":49.8,"v":700},{"t":50.3,"v":880},{"t":50.8,"v":640},{"t":51.3,"v":810},{"t":51.8,"v":760},{"t":52.3,"v":890},{"t":52.8,"v":670},{"t":53.3,"v":840},{"t":53.8,"v":720},{"t":54.3,"v":870},{"t":54.8,"v":650},{"t":55,"v":800}],
"b3":[{"t":0,"v":-140,"v2":195},{"t":0.5,"v":-205,"v2":150},{"t":1,"v":-150,"v2":210},{"t":1.5,"v":-195,"v2":140},{"t":2,"v":-135,"v2":200},{"t":2.5,"v":-215,"v2":155},{"t":3,"v":-150,"v2":190},{"t":3.5,"v":-190,"v2":140},{"t":4,"v":-145,"v2":215},{"t":4.5,"v":-205,"v2":150},{"t":5,"v":-135,"v2":185},{"t":5.5,"v":-195,"v2":135},{"t":6,"v":-160,"v2":205},{"t":6.5,"v":-215,"v2":150},{"t":7,"v":-140,"v2":180},{"t":7.5,"v":-200,"v2":140},{"t":8,"v":-150,"v2":210},{"t":8.5,"v":-180,"v2":135},{"t":9,"v":-135,"v2":195},{"t":9.5,"v":-210,"v2":160},{"t":10,"v":-150,"v2":185},{"t":10.5,"v":-195,"v2":145},{"t":11,"v":-140,"v2":215},{"t":11.5,"v":-205,"v2":150},{"t":12,"v":-160,"v2":180},{"t":12.5,"v":-185,"v2":130},{"t":13,"v":-135,"v2":190},{"t":13.5,"v":-200,"v2":150},{"t":14,"v":-150,"v2":175},{"t":14.5,"v":-175,"v2":130},{"t":15,"v":-130,"v2":170},{"t":15.5,"v":-165,"v2":125},{"t":16,"v":-120,"v2":155},{"t":16.5,"v":-150,"v2":110},{"t":17,"v":-110,"v2":140},{"t":17.5,"v":-140,"v2":100},{"t":18,"v":-100,"v2":130},{"t":18.5,"v":-125,"v2":90},{"t":19,"v":-95,"v2":120},{"t":19.5,"v":-115,"v2":85},{"t":20,"v":-85,"v2":110},{"t":20.5,"v":-110,"v2":80},{"t":21,"v":-80,"v2":105},{"t":21.5,"v":-105,"v2":75},{"t":22,"v":-75,"v2":100},{"t":22.5,"v":-100,"v2":70},{"t":23,"v":-70,"v2":95},{"t":23.5,"v":-95,"v2":65},{"t":24,"v":-65,"v2":90},{"t":24.5,"v":-90,"v2":60},{"t":25,"v":-60,"v2":85},{"t":25.5,"v":-85,"v2":55},{"t":26,"v":-55,"v2":80},{"t":26.5,"v":-80,"v2":55},{"t":27,"v":-55,"v2":75},{"t":27.5,"v":-75,"v2":50},{"t":28,"v":-50,"v2":70},{"t":28.5,"v":-70,"v2":50},{"t":29,"v":-55,"v2":75},{"t":29.5,"v":-80,"v2":110},{"t":30,"v":-60,"v2":80},{"t":30.5,"v":-130,"v2":160},{"t":31,"v":-100,"v2":120},{"t":31.5,"v":-150,"v2":185},{"t":32,"v":-125,"v2":150},{"t":32.5,"v":-175,"v2":215},{"t":33,"v":-140,"v2":170},{"t":33.5,"v":-200,"v2":230},{"t":34,"v":-160,"v2":190},{"t":34.5,"v":-215,"v2":240},{"t":35,"v":-165,"v2":185},{"t":35.5,"v":-225,"v2":215},{"t":36,"v":-170,"v2":200},{"t":36.5,"v":-240,"v2":245},{"t":37,"v":-175,"v2":190},{"t":37.5,"v":-215,"v2":230},{"t":38,"v":-165,"v2":205},{"t":38.5,"v":-235,"v2":245},{"t":39,"v":-175,"v2":190},{"t":39.5,"v":-220,"v2":225},{"t":40,"v":-160,"v2":200},{"t":40.5,"v":-245,"v2":245},{"t":41,"v":-180,"v2":190},{"t":41.5,"v":-225,"v2":230},{"t":42,"v":-170,"v2":195},{"t":42.5,"v":-235,"v2":240},{"t":43,"v":-175,"v2":185},{"t":43.5,"v":-215,"v2":225},{"t":44,"v":-165,"v2":200},{"t":44.5,"v":-240,"v2":245},{"t":45,"v":-175,"v2":190},{"t":45.5,"v":-220,"v2":230},{"t":46,"v":-170,"v2":195},{"t":46.5,"v":-235,"v2":245},{"t":47,"v":-175,"v2":190},{"t":47.5,"v":-225,"v2":225},{"t":48,"v":-165,"v2":195},{"t":48.5,"v":-245,"v2":245},{"t":49,"v":-180,"v2":190},{"t":49.5,"v":-220,"v2":230},{"t":50,"v":-170,"v2":195},{"t":50.5,"v":-235,"v2":240},{"t":51,"v":-175,"v2":185},{"t":51.5,"v":-225,"v2":225},{"t":52,"v":-170,"v2":200},{"t":52.5,"v":-240,"v2":245},{"t":53,"v":-175,"v2":190},{"t":53.5,"v":-220,"v2":225},{"t":54,"v":-170,"v2":195},{"t":54.5,"v":-240,"v2":240},{"t":55,"v":-180,"v2":195}],
"b4":[{"t":0,"v":14000,"b":6000},{"t":0.5,"v":22000,"b":7000},{"t":1,"v":12000,"b":6000},{"t":1.5,"v":26000,"b":7000},{"t":2,"v":15000,"b":6000},{"t":2.5,"v":19000,"b":7000},{"t":3,"v":11000,"b":6000},{"t":3.5,"v":28000,"b":7000},{"t":4,"v":13000,"b":6000},{"t":4.5,"v":20000,"b":7000},{"t":5,"v":16000,"b":6000},{"t":5.5,"v":24000,"b":7000},{"t":6,"v":12000,"b":6000},{"t":6.5,"v":27000,"b":7000},{"t":7,"v":14000,"b":6000},{"t":7.5,"v":18000,"b":7000},{"t":8,"v":25000,"b":7000},{"t":8.5,"v":12000,"b":6000},{"t":9,"v":21000,"b":7000},{"t":9.5,"v":15000,"b":6000},{"t":10,"v":29000,"b":7000},{"t":10.5,"v":13000,"b":6000},{"t":11,"v":22000,"b":7000},{"t":11.5,"v":16000,"b":6000},{"t":12,"v":26000,"b":7000},{"t":12.5,"v":12000,"b":6000},{"t":13,"v":19000,"b":6000},{"t":13.5,"v":14000,"b":6000},{"t":14,"v":24000,"b":6000},{"t":14.5,"v":11000,"b":5000},{"t":15,"v":17000,"b":5000},{"t":15.5,"v":9000,"b":4000},{"t":16,"v":14000,"b":4000},{"t":16.5,"v":7000,"b":3000},{"t":17,"v":10000,"b":3000},{"t":17.5,"v":5000,"b":2000},{"t":18,"v":6000,"b":2000},{"t":18.5,"v":3000,"b":1500},{"t":19,"v":4000,"b":1200},{"t":19.5,"v":2500,"b":1000},{"t":20,"v":3500,"b":1000},{"t":20.5,"v":2000,"b":900},{"t":21,"v":2800,"b":900},{"t":21.5,"v":1800,"b":800},{"t":22,"v":2500,"b":800},{"t":22.5,"v":1600,"b":700},{"t":23,"v":2200,"b":700},{"t":23.5,"v":1500,"b":700},{"t":24,"v":2000,"b":700},{"t":24.5,"v":1400,"b":600},{"t":25,"v":1800,"b":600},{"t":25.5,"v":1300,"b":600},{"t":26,"v":1600,"b":600},{"t":26.5,"v":1200,"b":600},{"t":27,"v":1500,"b":600},{"t":27.5,"v":1100,"b":500},{"t":28,"v":1400,"b":500},{"t":28.5,"v":1000,"b":500},{"t":29,"v":1300,"b":500},{"t":29.5,"v":1000,"b":500},{"t":30,"v":1500,"b":500},{"t":30.5,"v":14000,"b":3000},{"t":31,"v":5000,"b":3000},{"t":31.5,"v":9000,"b":4000},{"t":32,"v":6000,"b":4000},{"t":32.5,"v":22000,"b":6000},{"t":33,"v":10000,"b":7000},{"t":33.5,"v":30000,"b":9000},{"t":34,"v":14000,"b":10000},{"t":34.5,"v":38000,"b":12000},{"t":35,"v":18000,"b":12000},{"t":35.5,"v":45000,"b":13000},{"t":36,"v":20000,"b":13000},{"t":36.5,"v":32000,"b":13000},{"t":37,"v":70000,"b":14000},{"t":37.5,"v":25000,"b":14000},{"t":38,"v":40000,"b":14000},{"t":38.5,"v":22000,"b":14000},{"t":39,"v":48000,"b":14000},{"t":39.5,"v":26000,"b":14000},{"t":40,"v":36000,"b":14000},{"t":40.5,"v":58000,"b":15000},{"t":41,"v":24000,"b":14000},{"t":41.5,"v":42000,"b":15000},{"t":42,"v":28000,"b":14000},{"t":42.5,"v":52000,"b":15000},{"t":43,"v":23000,"b":14000},{"t":43.5,"v":38000,"b":15000},{"t":44,"v":30000,"b":14000},{"t":44.5,"v":46000,"b":15000},{"t":45,"v":25000,"b":14000},{"t":45.5,"v":62000,"b":15000},{"t":46,"v":27000,"b":14000},{"t":46.5,"v":40000,"b":15000},{"t":47,"v":24000,"b":14000},{"t":47.5,"v":50000,"b":15000},{"t":48,"v":29000,"b":14000},{"t":48.5,"v":36000,"b":15000},{"t":49,"v":55000,"b":15000},{"t":49.5,"v":26000,"b":14000},{"t":50,"v":44000,"b":15000},{"t":50.5,"v":28000,"b":14000},{"t":51,"v":48000,"b":15000},{"t":51.5,"v":25000,"b":14000},{"t":52,"v":38000,"b":15000},{"t":52.5,"v":66000,"b":15000},{"t":53,"v":27000,"b":14000},{"t":53.5,"v":42000,"b":15000},{"t":54,"v":30000,"b":14000},{"t":54.5,"v":58000,"b":15000},{"t":55,"v":35000,"b":15000}],
"b5":[{"t":0,"v":162000},{"t":0.5,"v":166000},{"t":1,"v":160000},{"t":1.5,"v":164000},{"t":2,"v":170000},{"t":2.5,"v":166000},{"t":3,"v":162000},{"t":3.5,"v":168000},{"t":4,"v":164000},{"t":4.5,"v":170000},{"t":5,"v":166000},{"t":5.5,"v":172000},{"t":6,"v":167000},{"t":6.5,"v":163000},{"t":7,"v":169000},{"t":7.5,"v":173000},{"t":8,"v":165000},{"t":8.5,"v":160000},{"t":9,"v":156000},{"t":9.5,"v":158000},{"t":10,"v":154000},{"t":10.5,"v":150000},{"t":11,"v":153000},{"t":11.5,"v":149000},{"t":12,"v":152000},{"t":12.5,"v":148000},{"t":13,"v":151000},{"t":13.5,"v":147000},{"t":14,"v":150000},{"t":14.5,"v":153000},{"t":15,"v":149000},{"t":15.5,"v":152000},{"t":16,"v":160000},{"t":16.5,"v":175000},{"t":16.8,"v":185000},{"t":17.2,"v":172000},{"t":17.6,"v":155000},{"t":18,"v":138000},{"t":18.5,"v":120000},{"t":19,"v":104000},{"t":19.5,"v":90000},{"t":20,"v":78000},{"t":20.5,"v":67000},{"t":21,"v":58000},{"t":21.5,"v":51000},{"t":22,"v":45000},{"t":22.5,"v":40000},{"t":23,"v":35000},{"t":23.5,"v":31000},{"t":24,"v":28000},{"t":24.5,"v":25000},{"t":25,"v":22000},{"t":25.5,"v":20000},{"t":26,"v":18000},{"t":26.5,"v":16000},{"t":27,"v":14000},{"t":27.5,"v":13000},{"t":28,"v":12000},{"t":28.5,"v":10000},{"t":29,"v":9000},{"t":29.5,"v":8000},{"t":30,"v":7000},{"t":30.5,"v":7500},{"t":31,"v":6500},{"t":31.5,"v":7000},{"t":32,"v":6000},{"t":32.5,"v":7500},{"t":33,"v":9000},{"t":33.5,"v":11000},{"t":34,"v":15000},{"t":34.5,"v":20000},{"t":35,"v":26000},{"t":35.5,"v":31000},{"t":36,"v":36000},{"t":36.5,"v":41000},{"t":37,"v":46000},{"t":37.5,"v":50000},{"t":38,"v":55000},{"t":38.5,"v":60000},{"t":39,"v":57000},{"t":39.5,"v":62000},{"t":40,"v":66000},{"t":40.5,"v":63000},{"t":41,"v":68000},{"t":41.5,"v":71000},{"t":42,"v":67000},{"t":42.5,"v":72000},{"t":43,"v":75000},{"t":43.5,"v":71000},{"t":44,"v":76000},{"t":44.5,"v":79000},{"t":45,"v":75000},{"t":45.5,"v":80000},{"t":46,"v":84000},{"t":46.5,"v":80000},{"t":47,"v":85000},{"t":47.5,"v":88000},{"t":48,"v":84000},{"t":48.5,"v":89000},{"t":49,"v":93000},{"t":49.5,"v":89000},{"t":50,"v":94000},{"t":50.5,"v":98000},{"t":51,"v":94000},{"t":51.5,"v":100000},{"t":52,"v":104000},{"t":52.5,"v":99000},{"t":53,"v":106000},{"t":53.5,"v":112000},{"t":54,"v":108000},{"t":54.5,"v":118000},{"t":55,"v":114000}],
"c1":[{"t":0,"v":-4.3},{"t":1,"v":-4.4},{"t":2,"v":-4.6},{"t":3,"v":-4.8},{"t":4,"v":-4.6},{"t":5,"v":-4.4},{"t":6,"v":-4.1},{"t":7,"v":-3.7},{"t":7.5,"v":-3.3},{"t":8,"v":-5.5},{"t":8.5,"v":-8.5},{"t":8.8,"v":-9.8},{"t":9.2,"v":-8.6},{"t":9.8,"v":-6.0},{"t":10.5,"v":-4.2},{"t":11.2,"v":-3.2},{"t":12,"v":-2.6},{"t":13,"v":-2.4},{"t":14,"v":-2.8},{"t":15,"v":-3.3},{"t":16,"v":-3.8},{"t":17,"v":-4.2},{"t":18,"v":-4.6},{"t":20,"v":-5.3},{"t":22,"v":-5.9},{"t":24,"v":-6.4},{"t":26,"v":-6.8},{"t":28,"v":-7.1},{"t":30,"v":-7.3},{"t":32,"v":-7.4},{"t":34,"v":-7.5},{"t":36,"v":-7.55},{"t":38,"v":-7.6},{"t":40,"v":-7.6},{"t":42,"v":-7.65},{"t":44,"v":-7.6},{"t":46,"v":-7.6},{"t":48,"v":-7.6},{"t":50,"v":-7.6},{"t":50.3,"v":-6.6},{"t":50.6,"v":-7.6},{"t":52,"v":-7.6},{"t":55,"v":-7.55}],
"c2":[{"t":0,"v":-7.6},{"t":2,"v":-7.5},{"t":4,"v":-7.4},{"t":6,"v":-7.3},{"t":8,"v":-7.2},{"t":10,"v":-7.0},{"t":12,"v":-6.7},{"t":13,"v":-6.5},{"t":14,"v":-6.2},{"t":15,"v":-5.7},{"t":16,"v":-5.2},{"t":16.8,"v":-5.0},{"t":17.2,"v":-7.0},{"t":17.5,"v":-9.0},{"t":18,"v":-9.2},{"t":19,"v":-8.9},{"t":20,"v":-8.8},{"t":22,"v":-9.0},{"t":24,"v":-9.1},{"t":25,"v":-9.05},{"t":27,"v":-8.8},{"t":29,"v":-8.2},{"t":31,"v":-7.4},{"t":33,"v":-6.4},{"t":35,"v":-5.2},{"t":37,"v":-4.1},{"t":39,"v":-3.0},{"t":41,"v":-2.1},{"t":43,"v":-1.5},{"t":45,"v":-1.1},{"t":47,"v":-0.8},{"t":49,"v":-0.6},{"t":51,"v":-0.5},{"t":53,"v":-0.45},{"t":55,"v":-0.4}],
"c3":[{"t":0,"v":20},{"t":0.5,"v":-120},{"t":1,"v":-40},{"t":1.5,"v":-180},{"t":2,"v":-160},{"t":2.5,"v":-250},{"t":3,"v":-140},{"t":3.5,"v":-200},{"t":4,"v":-60},{"t":4.5,"v":-120},{"t":5,"v":0},{"t":5.5,"v":-70},{"t":6,"v":20},{"t":6.5,"v":-80},{"t":7,"v":-300},{"t":7.4,"v":-450},{"t":7.8,"v":0},{"t":8.2,"v":800},{"t":8.6,"v":1000},{"t":9,"v":200},{"t":9.4,"v":-480},{"t":9.8,"v":-300},{"t":10.3,"v":-40},{"t":10.8,"v":-120},{"t":11.3,"v":-10},{"t":11.8,"v":-100},{"t":12.3,"v":10},{"t":12.8,"v":-80},{"t":13.3,"v":-20},{"t":13.8,"v":-110},{"t":14.3,"v":0},{"t":14.8,"v":-70},{"t":15.3,"v":20},{"t":15.8,"v":-90},{"t":16.3,"v":-30},{"t":16.8,"v":-120},{"t":17.3,"v":-10},{"t":17.8,"v":-80},{"t":18.3,"v":10},{"t":18.8,"v":-100},{"t":19.3,"v":-20},{"t":19.8,"v":-70},{"t":20.3,"v":20},{"t":20.8,"v":-90},{"t":21.3,"v":-10},{"t":21.8,"v":-110},{"t":22.3,"v":0},{"t":22.8,"v":-80},{"t":23.3,"v":-30},{"t":23.8,"v":-100},{"t":24.3,"v":10},{"t":24.8,"v":-60},{"t":25.3,"v":-10},{"t":25.8,"v":-120},{"t":26.3,"v":20},{"t":26.8,"v":-90},{"t":27.3,"v":-20},{"t":27.8,"v":-70},{"t":28.3,"v":0},{"t":28.8,"v":-110},{"t":29.3,"v":-10},{"t":29.8,"v":-80},{"t":30.3,"v":10},{"t":30.8,"v":-100},{"t":31.3,"v":-30},{"t":31.8,"v":-70},{"t":32.3,"v":20},{"t":32.8,"v":-120},{"t":33.3,"v":-10},{"t":33.8,"v":-90},{"t":34.3,"v":0},{"t":34.8,"v":-80},{"t":35.3,"v":-20},{"t":35.8,"v":-110},{"t":36.3,"v":10},{"t":36.8,"v":-70},{"t":37.3,"v":-10},{"t":37.8,"v":-100},{"t":38.3,"v":20},{"t":38.8,"v":-80},{"t":39.3,"v":-30},{"t":39.8,"v":-110},{"t":40.3,"v":0},{"t":40.8,"v":-70},{"t":41.3,"v":-10},{"t":41.8,"v":-100},{"t":42.3,"v":10},{"t":42.8,"v":-80},{"t":43.3,"v":-20},{"t":43.8,"v":-120},{"t":44.3,"v":20},{"t":44.8,"v":-90},{"t":45.3,"v":-10},{"t":45.8,"v":-70},{"t":46.3,"v":0},{"t":46.8,"v":-110},{"t":47.3,"v":-20},{"t":47.8,"v":-80},{"t":48.3,"v":10},{"t":48.8,"v":-100},{"t":49.3,"v":-10},{"t":49.8,"v":-70},{"t":50.2,"v":0},{"t":50.4,"v":800},{"t":50.6,"v":-40},{"t":51.3,"v":0},{"t":51.8,"v":-90},{"t":52.3,"v":-10},{"t":52.8,"v":-110},{"t":53.3,"v":10},{"t":53.8,"v":-80},{"t":54.3,"v":-20},{"t":54.8,"v":-100},{"t":55,"v":-10}],
"c4":[{"t":0,"v":230},{"t":0.5,"v":160},{"t":1,"v":250},{"t":1.5,"v":170},{"t":2,"v":220},{"t":2.5,"v":140},{"t":3,"v":240},{"t":3.5,"v":180},{"t":4,"v":260},{"t":4.5,"v":150},{"t":5,"v":210},{"t":5.5,"v":120},{"t":6,"v":230},{"t":6.5,"v":170},{"t":7,"v":250},{"t":7.5,"v":130},{"t":8,"v":210},{"t":8.5,"v":160},{"t":9,"v":240},{"t":9.5,"v":140},{"t":10,"v":220},{"t":10.5,"v":170},{"t":11,"v":250},{"t":11.5,"v":150},{"t":12,"v":230},{"t":12.5,"v":120},{"t":13,"v":210},{"t":13.5,"v":180},{"t":14,"v":260},{"t":14.5,"v":130},{"t":15,"v":220},{"t":15.5,"v":160},{"t":16,"v":240},{"t":16.5,"v":150},{"t":17,"v":210},{"t":17.4,"v":170},{"t":17.7,"v":-250},{"t":18,"v":300},{"t":18.2,"v":-150},{"t":18.4,"v":1500},{"t":18.6,"v":400},{"t":18.9,"v":150},{"t":19.5,"v":230},{"t":20,"v":180},{"t":20.5,"v":240},{"t":21,"v":160},{"t":21.5,"v":250},{"t":22,"v":140},{"t":22.5,"v":220},{"t":23,"v":170},{"t":23.5,"v":250},{"t":24,"v":130},{"t":24.5,"v":210},{"t":25,"v":180},{"t":25.5,"v":260},{"t":26,"v":150},{"t":26.5,"v":230},{"t":27,"v":120},{"t":27.5,"v":210},{"t":28,"v":170},{"t":28.5,"v":240},{"t":29,"v":140},{"t":29.5,"v":220},{"t":30,"v":180},{"t":30.5,"v":250},{"t":31,"v":150},{"t":31.5,"v":230},{"t":32,"v":130},{"t":32.5,"v":210},{"t":33,"v":170},{"t":33.5,"v":260},{"t":34,"v":140},{"t":34.5,"v":220},{"t":35,"v":160},{"t":35.5,"v":240},{"t":36,"v":150},{"t":36.5,"v":250},{"t":37,"v":120},{"t":37.5,"v":210},{"t":38,"v":180},{"t":38.5,"v":230},{"t":39,"v":140},{"t":39.5,"v":250},{"t":40,"v":170},{"t":40.5,"v":220},{"t":41,"v":130},{"t":41.5,"v":240},{"t":42,"v":160},{"t":42.5,"v":210},{"t":43,"v":180},{"t":43.5,"v":260},{"t":44,"v":150},{"t":44.5,"v":230},{"t":45,"v":170},{"t":45.5,"v":210},{"t":46,"v":140},{"t":46.5,"v":250},{"t":47,"v":160},{"t":47.5,"v":220},{"t":48,"v":180},{"t":48.5,"v":240},{"t":49,"v":130},{"t":49.5,"v":230},{"t":50.2,"v":170},{"t":50.4,"v":650},{"t":50.6,"v":190},{"t":51,"v":240},{"t":51.5,"v":150},{"t":52,"v":220},{"t":52.5,"v":170},{"t":53,"v":250},{"t":53.5,"v":140},{"t":54,"v":230},{"t":54.5,"v":160},{"t":55,"v":210}],
"d1":[{"t":0,"v":-0.45,"v2":-0.15},{"t":0.2,"v":-0.5,"v2":-0.2},{"t":0.4,"v":-0.42,"v2":-0.12},{"t":0.6,"v":-0.55,"v2":-0.18},{"t":0.8,"v":-0.48,"v2":-0.1},{"t":1.0,"v":-0.5,"v2":-0.2},{"t":1.2,"v":-0.45,"v2":-0.14},{"t":1.4,"v":-0.58,"v2":-0.2},{"t":1.6,"v":-0.46,"v2":-0.12},{"t":1.8,"v":-0.52,"v2":-0.18},{"t":2.0,"v":-0.44,"v2":-0.1},{"t":2.2,"v":-0.55,"v2":-0.2},{"t":2.4,"v":-0.48,"v2":-0.15},{"t":2.6,"v":-0.5,"v2":-0.12},{"t":2.8,"v":-0.6,"v2":-0.2},{"t":3.0,"v":-0.47,"v2":-0.15},{"t":3.2,"v":-0.52,"v2":-0.1},{"t":3.4,"v":-0.45,"v2":-0.18},{"t":3.6,"v":-0.56,"v2":-0.14},{"t":3.8,"v":-0.5,"v2":-0.2},{"t":4.0,"v":-0.46,"v2":-0.12},{"t":4.2,"v":-0.54,"v2":-0.16},{"t":4.4,"v":-0.48,"v2":-0.1},{"t":4.6,"v":-0.58,"v2":-0.2},{"t":4.8,"v":-0.5,"v2":-0.15},{"t":5.0,"v":-0.55,"v2":-0.22},{"t":5.2,"v":-0.6,"v2":-0.25},{"t":5.4,"v":-0.58,"v2":-0.28},{"t":5.6,"v":-0.65,"v2":-0.35},{"t":5.8,"v":-0.72,"v2":-0.45},{"t":6.0,"v":-0.85,"v2":-0.6},{"t":6.1,"v":-1.0,"v2":-0.75},{"t":6.2,"v":-1.2,"v2":-0.95},{"t":6.3,"v":-1.4,"v2":-1.15},{"t":6.4,"v":-1.6,"v2":-1.35},{"t":6.5,"v":-1.8,"v2":-1.55},{"t":6.6,"v":-1.95,"v2":-1.7},{"t":6.7,"v":-2.1,"v2":-1.85},{"t":6.8,"v":-2.15,"v2":-1.9},{"t":6.9,"v":-2.15,"v2":-1.9},{"t":7.0,"v":-1.95,"v2":-1.72},{"t":7.1,"v":-1.6,"v2":-1.38},{"t":7.2,"v":-1.0,"v2":-0.8},{"t":7.3,"v":-0.2,"v2":0.0},{"t":7.4,"v":0.8,"v2":1.0},{"t":7.5,"v":1.8,"v2":2.0},{"t":7.6,"v":2.7,"v2":2.9},{"t":7.7,"v":3.2,"v2":3.4},{"t":7.8,"v":3.1,"v2":3.3},{"t":7.9,"v":2.5,"v2":2.7},{"t":8.0,"v":1.6,"v2":1.8},{"t":8.1,"v":0.7,"v2":0.9},{"t":8.2,"v":-0.1,"v2":0.1},{"t":8.3,"v":-0.8,"v2":-0.5},{"t":8.4,"v":-1.3,"v2":-1.0},{"t":8.5,"v":-1.65,"v2":-1.3},{"t":8.6,"v":-1.9,"v2":-1.45},{"t":8.7,"v":-2.05,"v2":-1.55},{"t":8.8,"v":-2.1,"v2":-1.6},{"t":8.9,"v":-2.1,"v2":-1.6},{"t":9.0,"v":-2.05,"v2":-1.5},{"t":9.1,"v":-1.95,"v2":-1.4},{"t":9.2,"v":-1.8,"v2":-1.3},{"t":9.3,"v":-1.6,"v2":-1.15},{"t":9.4,"v":-1.4,"v2":-1.0},{"t":9.5,"v":-1.2,"v2":-0.85},{"t":9.6,"v":-1.0,"v2":-0.65},{"t":9.7,"v":-0.8,"v2":-0.45},{"t":9.8,"v":-0.55,"v2":-0.25},{"t":9.9,"v":-0.35,"v2":-0.1},{"t":10.0,"v":-0.2,"v2":0.05},{"t":10.1,"v":-0.12,"v2":0.12},{"t":10.2,"v":-0.1,"v2":0.12},{"t":10.4,"v":-0.15,"v2":0.08},{"t":10.6,"v":-0.2,"v2":0.02},{"t":10.8,"v":-0.28,"v2":-0.05},{"t":11.0,"v":-0.3,"v2":-0.1},{"t":11.2,"v":-0.35,"v2":-0.12},{"t":11.4,"v":-0.4,"v2":-0.15},{"t":11.6,"v":-0.45,"v2":-0.18},{"t":11.8,"v":-0.4,"v2":-0.2},{"t":12.0,"v":-0.48,"v2":-0.22},{"t":12.2,"v":-0.42,"v2":-0.2},{"t":12.4,"v":-0.5,"v2":-0.25},{"t":12.6,"v":-0.45,"v2":-0.2},{"t":12.8,"v":-0.52,"v2":-0.28},{"t":13.0,"v":-0.46,"v2":-0.2},{"t":13.2,"v":-0.5,"v2":-0.25},{"t":13.4,"v":-0.44,"v2":-0.2},{"t":13.6,"v":-0.55,"v2":-0.28},{"t":13.8,"v":-0.48,"v2":-0.2},{"t":14.0,"v":-0.52,"v2":-0.22},{"t":14.2,"v":-0.46,"v2":-0.2},{"t":14.4,"v":-0.54,"v2":-0.25},{"t":14.6,"v":-0.5,"v2":-0.18},{"t":14.8,"v":-0.56,"v2":-0.26},{"t":15.0,"v":-0.48,"v2":-0.2},{"t":15.2,"v":-0.52,"v2":-0.2},{"t":15.4,"v":-0.5,"v2":-0.22},{"t":15.6,"v":-0.55,"v2":-0.2},{"t":15.77,"v":-0.5,"v2":-0.22},{"t":15.8,"v":-0.5,"v2":0.15},{"t":15.83,"v":-0.52,"v2":-0.22},{"t":16.0,"v":-0.56,"v2":-0.24},{"t":16.2,"v":-0.5,"v2":-0.2},{"t":16.4,"v":-0.58,"v2":-0.25},{"t":16.57,"v":-0.52,"v2":-0.22},{"t":16.6,"v":-0.52,"v2":0.2},{"t":16.63,"v":-0.54,"v2":-0.22},{"t":16.8,"v":-0.55,"v2":-0.22},{"t":17.0,"v":-0.6,"v2":-0.25},{"t":17.17,"v":-0.52,"v2":-0.22},{"t":17.2,"v":-0.52,"v2":0.25},{"t":17.23,"v":-0.55,"v2":-0.24},{"t":17.4,"v":-0.58,"v2":-0.24},{"t":17.57,"v":-0.55,"v2":-0.22},{"t":17.6,"v":-0.55,"v2":0.3},{"t":17.63,"v":-0.56,"v2":-0.23},{"t":17.8,"v":-0.6,"v2":-0.22},{"t":17.97,"v":-0.54,"v2":-0.22},{"t":18.0,"v":-0.54,"v2":0.2},{"t":18.03,"v":-0.56,"v2":-0.22},{"t":18.2,"v":-0.6,"v2":-0.26},{"t":18.37,"v":-0.56,"v2":-0.24},{"t":18.4,"v":-0.56,"v2":0.3},{"t":18.43,"v":-0.58,"v2":-0.24},{"t":18.6,"v":-0.62,"v2":-0.24},{"t":18.77,"v":-0.55,"v2":-0.22},{"t":18.8,"v":-0.55,"v2":0.25},{"t":18.83,"v":-0.56,"v2":-0.22},{"t":19.0,"v":-0.6,"v2":-0.22},{"t":19.17,"v":-0.56,"v2":-0.24},{"t":19.2,"v":-0.56,"v2":0.3},{"t":19.23,"v":-0.58,"v2":-0.24},{"t":19.4,"v":-0.62,"v2":-0.25},{"t":19.57,"v":-0.58,"v2":-0.22},{"t":19.6,"v":-0.58,"v2":0.2},{"t":19.63,"v":-0.6,"v2":-0.24},{"t":19.8,"v":-0.6,"v2":-0.24},{"t":19.9,"v":-0.58,"v2":-0.22}]
},
"vconcat":[
{"hconcat":[
{"vconcat":[
{"width":421,"height":33,
"encoding":{"x":{"field":"t","type":"quantitative","scale":{"domain":[0,56.7],"nice":false,"zero":false},"axis":null},
"y":{"field":"v","type":"quantitative","scale":{"domain":[-7,0],"reverse":true,"nice":false,"zero":false},"axis":{"orient":"right","values":[-7,0],"labelExpr":"datum.value==0?'0':'-7'","title":"(mV)","titleY":16.5,"domainColor":"#8e8e8e","tickColor":"#8e8e8e","labelColor":"#8e8e8e","titleColor":"#8e8e8e"}}},
"layer":[
{"data":{"name":"a1"},"mark":{"type":"line","color":"#8e8e8e","strokeWidth":1.6}},
{"data":{"values":[{"t":55.1,"v":-6.8,"s":"DC/AC-ECoG electrode 3"},{"t":24.1,"v":-6.8,"s":"SD"}]},"mark":{"type":"text","align":"right","baseline":"middle","fontSize":16.5,"fontWeight":"bold","color":"#9b9b9b"},"encoding":{"text":{"field":"s"}}},
{"data":{"values":[{"t":-0.8,"v":-13.8,"s":"(a)"}]},"mark":{"type":"text","align":"left","baseline":"middle","fontSize":18,"color":"#222222"},"encoding":{"text":{"field":"s"}}},
{"data":{"values":[{"t":4.3,"v":-13.8,"s":"Monopolar recordings: short SD"}]},"mark":{"type":"text","align":"left","baseline":"middle","fontSize":18,"fontWeight":"bold","color":"#222222"},"encoding":{"text":{"field":"s"}}}
]},
{"width":421,"height":33,
"encoding":{"x":{"field":"t","type":"quantitative","scale":{"domain":[0,56.7],"nice":false,"zero":false},"axis":null},
"y":{"field":"v","type":"quantitative","scale":{"domain":[-11,0],"reverse":true,"nice":false,"zero":false},"axis":{"orient":"right","values":[-11,0],"labelExpr":"datum.value==0?'0':'-11'","title":"(mV)","titleY":16.5,"domainColor":"#8e8e8e","tickColor":"#8e8e8e","labelColor":"#8e8e8e","titleColor":"#8e8e8e"}}},
"layer":[
{"data":{"name":"a2"},"mark":{"type":"line","color":"#8e8e8e","strokeWidth":1.6}},
{"data":{"values":[{"t":55.1,"v":-10.7,"s":"DC/AC-ECoG electrode 4"}]},"mark":{"type":"text","align":"right","baseline":"middle","fontSize":16.5,"fontWeight":"bold","color":"#9b9b9b"},"encoding":{"text":{"field":"s"}}},
{"data":{"values":[{"t":20.1,"v":-10.7,"s":"SD"}]},"mark":{"type":"text","align":"left","baseline":"middle","fontSize":16.5,"fontWeight":"bold","color":"#9b9b9b"},"encoding":{"text":{"field":"s"}}},
{"data":{"values":[{"t":-0.8,"v":-13.7,"s":"Raw signals"}]},"mark":{"type":"text","align":"left","baseline":"middle","fontSize":14,"fontWeight":"bold","color":"#1e1e1e"},"encoding":{"text":{"field":"s"}}},
{"data":{"values":[{"t":11.5,"v":-17.3,"v2":-9.7}]},"mark":{"type":"rule","color":"#1e1e1e","strokeWidth":1.5},"encoding":{"y2":{"field":"v2"}}},
{"data":{"values":[{"t":11.5,"v":-17.0}]},"mark":{"type":"point","shape":"triangle-up","filled":true,"size":22,"color":"#1e1e1e","opacity":1}},
{"data":{"values":[{"t":11.5,"v":-10.0}]},"mark":{"type":"point","shape":"triangle-down","filled":true,"size":22,"color":"#1e1e1e","opacity":1}}
]},
{"width":421,"height":33,
"encoding":{"x":{"field":"t","type":"quantitative","scale":{"domain":[0,56.7],"nice":false,"zero":false},"axis":null},
"y":{"field":"v","type":"quantitative","scale":{"domain":[-800,1100],"reverse":true,"nice":false,"zero":false},"axis":{"orient":"right","values":[-800,1100],"labelExpr":"datum.value<0?'-800':'1100'","title":"(µV)","titleY":16.5,"domainColor":"#a24f31","tickColor":"#a24f31","labelColor":"#a85a3c","titleColor":"#a85a3c","domainWidth":3,"tickWidth":3}}},
"layer":[
{"data":{"name":"a3"},"mark":{"type":"line","color":"#a24f31","strokeWidth":2.2}},
{"data":{"values":[{"t":55.1,"v":-1376,"s":"Near-DC/AC-ECoG electrode 3"}]},"mark":{"type":"text","align":"right","baseline":"middle","fontSize":16.5,"fontWeight":"bold","color":"#a85a3c"},"encoding":{"text":{"field":"s"}}},
{"data":{"values":[{"t":3.9,"v":1273,"s":"1.6 mm/min"}]},"mark":{"type":"text","align":"left","baseline":"middle","fontSize":15,"fontWeight":"bold","color":"#a85a3c"},"encoding":{"text":{"field":"s"}}},
{"data":{"values":[{"t":18.1,"v":2079,"t2":22.8,"v2":650}]},"mark":{"type":"rule","color":"#a24f31","strokeWidth":4},"encoding":{"x2":{"field":"t2"},"y2":{"field":"v2"}}},
{"data":{"values":[{"t":23.2,"v":520}]},"mark":{"type":"point","shape":"triangle-up","filled":true,"size":140,"angle":54.5,"color":"#a24f31","opacity":1}}
]},
{"width":421,"height":33,
"encoding":{"x":{"field":"t","type":"quantitative","scale":{"domain":[0,56.7],"nice":false,"zero":false},"axis":null},
"y":{"field":"v","type":"quantitative","scale":{"domain":[-1200,2000],"reverse":true,"nice":false,"zero":false},"axis":{"orient":"right","values":[-1200,2000],"labelExpr":"datum.value<0?'-1200':'2000'","title":"(µV)","titleY":16.5,"domainColor":"#2f7a52","tickColor":"#2f7a52","labelColor":"#3b8059","titleColor":"#3b8059","domainWidth":3,"tickWidth":3}}},
"layer":[
{"data":{"name":"a4"},"mark":{"type":"line","color":"#2f7a52","strokeWidth":2.2}},
{"data":{"values":[{"t":55.1,"v":-1491,"s":"Near-DC/AC-ECoG electrode 4"}]},"mark":{"type":"text","align":"right","baseline":"middle","fontSize":16.5,"fontWeight":"bold","color":"#3b8059"},"encoding":{"text":{"field":"s"}}}
]},
{"width":421,"height":33,
"encoding":{"x":{"field":"t","type":"quantitative","scale":{"domain":[0,56.7],"nice":false,"zero":false},"axis":null},
"y":{"field":"v","type":"quantitative","scale":{"domain":[-250,250],"reverse":true,"nice":false,"zero":false},"axis":{"orient":"right","values":[-250,250],"labelExpr":"datum.value<0?'-250':'250'","title":"(µV)","titleY":16.5,"domainColor":"#8e8e8e","tickColor":"#8e8e8e","labelColor":"#8e8e8e","titleColor":"#8e8e8e"}}},
"layer":[
{"data":{"name":"a5"},"mark":{"type":"area","color":"#8e8e8e","opacity":1},"encoding":{"y2":{"field":"v2"}}},
{"data":{"values":[{"t":55.1,"v":-265,"s":"AC-ECoG electrode 3"}]},"mark":{"type":"text","align":"right","baseline":"middle","fontSize":16.5,"fontWeight":"bold","color":"#9b9b9b"},"encoding":{"text":{"field":"s"}}},
{"data":{"values":[{"t":1.9,"v":-477,"s":"Spreading depression"}]},"mark":{"type":"text","align":"left","baseline":"middle","fontSize":16,"fontWeight":"bold","color":"#9b9b9b"},"encoding":{"text":{"field":"s"}}},
{"data":{"values":[{"t":26,"v":-579,"v2":-230}]},"mark":{"type":"rule","color":"#8e8e8e","strokeWidth":1.5},"encoding":{"y2":{"field":"v2"}}},
{"data":{"values":[{"t":26,"v":-250}]},"mark":{"type":"point","shape":"triangle-down","filled":true,"size":20,"color":"#8e8e8e","opacity":1}}
]},
{"width":421,"height":33,
"encoding":{"x":{"field":"t","type":"quantitative","scale":{"domain":[0,56.7],"nice":false,"zero":false},"axis":null},
"y":{"field":"v","type":"quantitative","scale":{"domain":[-250,250],"reverse":true,"nice":false,"zero":false},"axis":{"orient":"right","values":[-250,250],"labelExpr":"datum.value<0?'-250':'250'","title":"(µV)","titleY":16.5,"domainColor":"#8e8e8e","tickColor":"#8e8e8e","labelColor":"#8e8e8e","titleColor":"#8e8e8e"}}},
"layer":[
{"data":{"name":"a6"},"mark":{"type":"area","color":"#8e8e8e","opacity":1},"encoding":{"y2":{"field":"v2"}}},
{"data":{"values":[{"t":55.1,"v":-265,"s":"AC-ECoG electrode 4"}]},"mark":{"type":"text","align":"right","baseline":"middle","fontSize":16.5,"fontWeight":"bold","color":"#9b9b9b"},"encoding":{"text":{"field":"s"}}},
{"data":{"values":[{"t":7.3,"v":-523,"s":"Spreading depression"}]},"mark":{"type":"text","align":"left","baseline":"middle","fontSize":16,"fontWeight":"bold","color":"#9b9b9b"},"encoding":{"text":{"field":"s"}}},
{"data":{"values":[{"t":18.9,"v":-614,"v2":-200}]},"mark":{"type":"rule","color":"#8e8e8e","strokeWidth":1.5},"encoding":{"y2":{"field":"v2"}}},
{"data":{"values":[{"t":18.9,"v":-220}]},"mark":{"type":"point","shape":"triangle-down","filled":true,"size":20,"color":"#8e8e8e","opacity":1}}
]},
{"width":421,"height":33,
"encoding":{"x":{"field":"t","type":"quantitative","scale":{"domain":[0,56.7],"nice":false,"zero":false},"axis":null},
"y":{"field":"v","type":"quantitative","scale":{"domain":[0,50000],"nice":false,"zero":false},"axis":{"orient":"right","values":[0,50000],"labelExpr":"datum.value==0?'0':'5x10⁴'","title":"(µV²)","titleY":16.5,"domainColor":"#8e8e8e","tickColor":"#8e8e8e","labelColor":"#8e8e8e","titleColor":"#8e8e8e"}}},
"layer":[
{"data":{"name":"a7"},"mark":{"type":"area","color":"#8e8e8e","opacity":1},"encoding":{"y":{"field":"b","type":"quantitative","scale":{"domain":[0,50000],"nice":false,"zero":false},"axis":null},"y2":{"datum":0}}},
{"data":{"name":"a7"},"mark":{"type":"rule","color":"#8e8e8e","strokeWidth":2.4}},
{"data":{"values":[{"t":55.1,"v":53000,"s":"Power AC-ECoG electrode 3"}]},"mark":{"type":"text","align":"right","baseline":"middle","fontSize":16.5,"fontWeight":"bold","color":"#9b9b9b"},"encoding":{"text":{"field":"s"}}}
]},
{"width":421,"height":33,
"encoding":{"x":{"field":"t","type":"quantitative","scale":{"domain":[0,56.7],"nice":false,"zero":false},"axis":null},
"y":{"field":"v","type":"quantitative","scale":{"domain":[0,70000],"nice":false,"zero":false},"axis":{"orient":"right","values":[0,70000],"labelExpr":"datum.value==0?'0':'7x10⁴'","title":"(µV²)","titleY":16.5,"domainColor":"#8e8e8e","tickColor":"#8e8e8e","labelColor":"#8e8e8e","titleColor":"#8e8e8e"}}},
"layer":[
{"data":{"name":"a8"},"mark":{"type":"area","color":"#8e8e8e","opacity":1},"encoding":{"y":{"field":"b","type":"quantitative","scale":{"domain":[0,70000],"nice":false,"zero":false},"axis":null},"y2":{"datum":0}}},
{"data":{"name":"a8"},"mark":{"type":"rule","color":"#8e8e8e","strokeWidth":2.4}},
{"data":{"values":[{"t":55.1,"v":87000,"s":"Power AC-ECoG electrode 4"}]},"mark":{"type":"text","align":"right","baseline":"middle","fontSize":16.5,"fontWeight":"bold","color":"#9b9b9b"},"encoding":{"text":{"field":"s"}}}
]},
{"width":421,"height":33,
"encoding":{"x":{"field":"t","type":"quantitative","scale":{"domain":[0,56.7],"nice":false,"zero":false},"axis":null},
"y":{"field":"v","type":"quantitative","scale":{"domain":[0,130000],"nice":false,"zero":false},"axis":{"orient":"right","values":[0,130000],"labelExpr":"datum.value==0?'0':'1,3x10⁵'","title":"(µV²s)","titleY":16.5,"domainColor":"#a24f31","tickColor":"#a24f31","labelColor":"#a85a3c","titleColor":"#a85a3c","domainWidth":3,"tickWidth":3}}},
"layer":[
{"data":{"name":"a9"},"mark":{"type":"line","color":"#a24f31","strokeWidth":1.6}},
{"data":{"values":[{"t":55.1,"v":169400,"s":"Integral of power AC-ECoG electrode 3"}]},"mark":{"type":"text","align":"right","baseline":"middle","fontSize":16.5,"fontWeight":"bold","color":"#a85a3c"},"encoding":{"text":{"field":"s"}}},
{"data":{"values":[{"t":24.8,"t2":30.0,"v":99000}]},"mark":{"type":"rule","color":"#e8251f","strokeWidth":2.5},"encoding":{"x2":{"field":"t2"}}},
{"data":{"values":[{"t":24.8,"v":99000},{"t":30.0,"v":99000}]},"mark":{"type":"point","shape":"circle","filled":true,"size":30,"color":"#e8251f","opacity":1}},
{"data":{"values":[{"t":30.1,"v":30000,"s":"*"}]},"mark":{"type":"text","align":"center","baseline":"middle","fontSize":24,"fontWeight":"bold","color":"#e8251f"},"encoding":{"text":{"field":"s"}}}
]},
{"width":421,"height":33,
"encoding":{"x":{"field":"t","type":"quantitative","scale":{"domain":[0,56.7],"nice":false,"zero":false},"axis":{"orient":"bottom","values":[0,10,20,30,40,50],"title":"Time (min)","domainColor":"#2f7a52","tickColor":"#2f7a52","labelColor":"#3b8059","titleColor":"#3b8059","domainWidth":3}},
"y":{"field":"v","type":"quantitative","scale":{"domain":[0,200000],"nice":false,"zero":false},"axis":{"orient":"right","values":[0,200000],"labelExpr":"datum.value==0?'0':'2x10⁵'","title":"(µV²s)","titleY":16.5,"domainColor":"#2f7a52","tickColor":"#2f7a52","labelColor":"#3b8059","titleColor":"#3b8059","domainWidth":3,"tickWidth":3}}},
"layer":[
{"data":{"name":"a10"},"mark":{"type":"line","color":"#2f7a52","strokeWidth":1.6}},
{"data":{"values":[{"t":55.1,"v":291000,"s":"Integral of power AC-ECoG electrode 4"}]},"mark":{"type":"text","align":"right","baseline":"middle","fontSize":16.5,"fontWeight":"bold","color":"#3b8059"},"encoding":{"text":{"field":"s"}}},
{"data":{"values":[{"t":16.8,"t2":33.0,"v":195000}]},"mark":{"type":"rule","color":"#e8251f","strokeWidth":2.5},"encoding":{"x2":{"field":"t2"}}},
{"data":{"values":[{"t":16.8,"v":195000},{"t":33.0,"v":195000}]},"mark":{"type":"point","shape":"circle","filled":true,"size":30,"color":"#e8251f","opacity":1}},
{"data":{"values":[{"t":33.1,"v":48000,"s":"*"}]},"mark":{"type":"text","align":"center","baseline":"middle","fontSize":24,"fontWeight":"bold","color":"#e8251f"},"encoding":{"text":{"field":"s"}}}
]}
],"spacing":25,"bounds":"flush"},
{"vconcat":[
{"vconcat":[
{"width":422,"height":34,
"encoding":{"x":{"field":"t","type":"quantitative","scale":{"domain":[0,56.4],"nice":false,"zero":false},"axis":null},
"y":{"field":"v","type":"quantitative","scale":{"domain":[-10,0],"reverse":true,"nice":false,"zero":false},"axis":{"orient":"right","values":[-10,0],"labelExpr":"datum.value==0?'0':'-10'","title":"(mV)","titleY":17,"domainColor":"#8e8e8e","tickColor":"#8e8e8e","labelColor":"#8e8e8e","titleColor":"#8e8e8e"}}},
"layer":[
{"data":{"name":"b1"},"mark":{"type":"line","color":"#8e8e8e","strokeWidth":1.6}},
{"data":{"values":[{"t":55.1,"v":-12.4,"s":"DC/AC-ECoG electrode 3 - electrode 4"}]},"mark":{"type":"text","align":"right","baseline":"middle","fontSize":16.5,"fontWeight":"bold","color":"#9b9b9b"},"encoding":{"text":{"field":"s"}}},
{"data":{"values":[{"t":0,"v":-2.65,"s":"Raw signal"}]},"mark":{"type":"text","align":"left","baseline":"middle","fontSize":15,"fontWeight":"bold","color":"#1e1e1e"},"encoding":{"text":{"field":"s"}}},
{"data":{"values":[{"t":-0.67,"v":-19.4,"s":"(b)"}]},"mark":{"type":"text","align":"left","baseline":"middle","fontSize":18,"color":"#222222"},"encoding":{"text":{"field":"s"}}},
{"data":{"values":[{"t":3.6,"v":-19.4,"s":"Bipolar recordings: short SD"}]},"mark":{"type":"text","align":"left","baseline":"middle","fontSize":18,"fontWeight":"bold","color":"#222222"},"encoding":{"text":{"field":"s"}}}
]},
{"width":422,"height":34,
"encoding":{"x":{"field":"t","type":"quantitative","scale":{"domain":[0,56.4],"nice":false,"zero":false},"axis":null},
"y":{"field":"v","type":"quantitative","scale":{"domain":[-1200,2000],"reverse":true,"nice":false,"zero":false},"axis":{"orient":"right","values":[-1200,2000],"labelExpr":"datum.value<0?'-1200':'2000'","title":"(µV)","titleY":17,"domainColor":"#8f8c3f","tickColor":"#8f8c3f","labelColor":"#9d9850","titleColor":"#9d9850","domainWidth":3,"tickWidth":3}}},
"layer":[
{"data":{"name":"b2"},"mark":{"type":"line","color":"#8f8c3f","strokeWidth":2.2}},
{"data":{"values":[{"t":55.1,"v":-1765,"s":"Near-DC/AC-ECoG electrode 3 - electrode 4"}]},"mark":{"type":"text","align":"right","baseline":"middle","fontSize":16.5,"fontWeight":"bold","color":"#9d9850"},"encoding":{"text":{"field":"s"}}}
]},
{"width":422,"height":34,
"encoding":{"x":{"field":"t","type":"quantitative","scale":{"domain":[0,56.4],"nice":false,"zero":false},"axis":null},
"y":{"field":"v","type":"quantitative","scale":{"domain":[-250,250],"reverse":true,"nice":false,"zero":false},"axis":{"orient":"right","values":[-250,250],"labelExpr":"datum.value<0?'-250':'250'","title":"(µV)","titleY":17,"domainColor":"#8e8e8e","tickColor":"#8e8e8e","labelColor":"#8e8e8e","titleColor":"#8e8e8e"}}},
"layer":[
{"data":{"name":"b3"},"mark":{"type":"area","color":"#8e8e8e","opacity":1},"encoding":{"y2":{"field":"v2"}}},
{"data":{"values":[{"t":55.1,"v":-324,"s":"AC-ECoG electrode 3 - electrode 4"}]},"mark":{"type":"text","align":"right","baseline":"middle","fontSize":16.5,"fontWeight":"bold","color":"#9b9b9b"},"encoding":{"text":{"field":"s"}}}
]},
{"width":422,"height":34,
"encoding":{"x":{"field":"t","type":"quantitative","scale":{"domain":[0,56.4],"nice":false,"zero":false},"axis":null},
"y":{"field":"v","type":"quantitative","scale":{"domain":[0,80000],"nice":false,"zero":false},"axis":{"orient":"right","values":[0,80000],"labelExpr":"datum.value==0?'0':'8x10⁴'","title":"(µV²)","titleY":17,"domainColor":"#8e8e8e","tickColor":"#8e8e8e","labelColor":"#8e8e8e","titleColor":"#8e8e8e"}}},
"layer":[
{"data":{"name":"b4"},"mark":{"type":"area","color":"#8e8e8e","opacity":1},"encoding":{"y":{"field":"b","type":"quantitative","scale":{"domain":[0,80000],"nice":false,"zero":false},"axis":null},"y2":{"datum":0}}},
{"data":{"name":"b4"},"mark":{"type":"rule","color":"#8e8e8e","strokeWidth":2.4}},
{"data":{"values":[{"t":55.1,"v":89400,"s":"Power AC-ECoG electrode 3 - electrode 4"}]},"mark":{"type":"text","align":"right","baseline":"middle","fontSize":16.5,"fontWeight":"bold","color":"#9b9b9b"},"encoding":{"text":{"field":"s"}}}
]},
{"width":422,"height":34,
"encoding":{"x":{"field":"t","type":"quantitative","scale":{"domain":[0,56.4],"nice":false,"zero":false},"axis":{"orient":"bottom","values":[0,10,20,30,40,50],"title":"Time (min)","domainColor":"#8f8c3f","tickColor":"#8f8c3f","labelColor":"#9d9850","titleColor":"#9d9850","domainWidth":3}},
"y":{"field":"v","type":"quantitative","scale":{"domain":[0,210000],"nice":false,"zero":false},"axis":{"orient":"right","values":[0,210000],"labelExpr":"datum.value==0?'0':'2,1x10⁵'","title":"(µV²s)","titleY":17,"domainColor":"#8f8c3f","tickColor":"#8f8c3f","labelColor":"#9d9850","titleColor":"#9d9850","domainWidth":3,"tickWidth":3}}},
"layer":[
{"data":{"name":"b5"},"mark":{"type":"line","color":"#8f8c3f","strokeWidth":1.6}},
{"data":{"values":[{"t":55.1,"v":290000,"s":"Integral of power AC-ECoG electrode 3 - electrode 4"}]},"mark":{"type":"text","align":"right","baseline":"middle","fontSize":16,"fontWeight":"bold","color":"#9d9850"},"encoding":{"text":{"field":"s"}}},
{"data":{"values":[{"t":16.8,"t2":33.7,"v":195000}]},"mark":{"type":"rule","color":"#e8251f","strokeWidth":2.5},"encoding":{"x2":{"field":"t2"}}},
{"data":{"values":[{"t":16.8,"v":195000},{"t":33.7,"v":195000}]},"mark":{"type":"point","shape":"circle","filled":true,"size":30,"color":"#e8251f","opacity":1}},
{"data":{"values":[{"t":33.8,"v":40000,"s":"*"}]},"mark":{"type":"text","align":"center","baseline":"middle","fontSize":24,"fontWeight":"bold","color":"#e8251f"},"encoding":{"text":{"field":"s"}}}
]}
],"spacing":24,"bounds":"flush"},
{"vconcat":[
{"width":422,"height":32,
"encoding":{"x":{"field":"t","type":"quantitative","scale":{"domain":[0,56.4],"nice":false,"zero":false},"axis":null},
"y":{"field":"v","type":"quantitative","scale":{"domain":[-10,0],"reverse":true,"nice":false,"zero":false},"axis":{"orient":"right","values":[-10,0],"labelExpr":"datum.value==0?'0':'-10'","title":"(mV)","titleY":16,"domainColor":"#8e8e8e","tickColor":"#8e8e8e","labelColor":"#8e8e8e","titleColor":"#8e8e8e"}}},
"layer":[
{"data":{"name":"c1"},"mark":{"type":"line","color":"#8e8e8e","strokeWidth":1.6}},
{"data":{"values":[{"t":55.1,"v":-10.6,"s":"DC/AC-ECoG electrode 2"}]},"mark":{"type":"text","align":"right","baseline":"middle","fontSize":16.5,"fontWeight":"bold","color":"#9b9b9b"},"encoding":{"text":{"field":"s"}}},
{"data":{"values":[{"t":7.6,"t2":11.6,"v":-1.2}]},"mark":{"type":"rule","color":"#9b9b9b","strokeWidth":3},"encoding":{"x2":{"field":"t2"}}},
{"data":{"values":[{"t":7.6,"v":-1.2},{"t":11.6,"v":-1.2}]},"mark":{"type":"point","shape":"circle","filled":true,"size":35,"color":"#9b9b9b","opacity":1}},
{"data":{"values":[{"t":-0.67,"v":-22.5,"s":"(c)"}]},"mark":{"type":"text","align":"left","baseline":"middle","fontSize":18,"color":"#222222"},"encoding":{"text":{"field":"s"}}},
{"data":{"values":[{"t":3.6,"v":-22.5,"s":"Monopolar recordings: long SD"}]},"mark":{"type":"text","align":"left","baseline":"middle","fontSize":18,"fontWeight":"bold","color":"#222222"},"encoding":{"text":{"field":"s"}}}
]},
{"width":422,"height":32,
"encoding":{"x":{"field":"t","type":"quantitative","scale":{"domain":[0,56.4],"nice":false,"zero":false},"axis":null},
"y":{"field":"v","type":"quantitative","scale":{"domain":[-10,0],"reverse":true,"nice":false,"zero":false},"axis":{"orient":"right","values":[-10,0],"labelExpr":"datum.value==0?'0':'-10'","title":"(mV)","titleY":16,"domainColor":"#8e8e8e","tickColor":"#3f8fc4","labelColor":"#8e8e8e","titleColor":"#8e8e8e"}}},
"layer":[
{"data":{"name":"c2"},"mark":{"type":"line","color":"#8e8e8e","strokeWidth":1.6}},
{"data":{"values":[{"t":55.1,"v":-11.3,"s":"DC/AC-ECoG electrode 5"}]},"mark":{"type":"text","align":"right","baseline":"middle","fontSize":16.5,"fontWeight":"bold","color":"#9b9b9b"},"encoding":{"text":{"field":"s"}}},
{"data":{"values":[{"t":17.0,"t2":38.8,"v":-0.95}]},"mark":{"type":"rule","color":"#9b9b9b","strokeWidth":3},"encoding":{"x2":{"field":"t2"}}},
{"data":{"values":[{"t":17.0,"v":-0.95},{"t":38.8,"v":-0.95}]},"mark":{"type":"point","shape":"circle","filled":true,"size":35,"color":"#9b9b9b","opacity":1}},
{"data":{"values":[{"t":0.9,"v":-11.6,"s":"Raw signals"}]},"mark":{"type":"text","align":"left","baseline":"middle","fontSize":14,"fontWeight":"bold","color":"#1e1e1e"},"encoding":{"text":{"field":"s"}}},
{"data":{"values":[{"t":13.8,"v":-16.8,"v2":-7.4}]},"mark":{"type":"rule","color":"#1e1e1e","strokeWidth":1.5},"encoding":{"y2":{"field":"v2"}}},
{"data":{"values":[{"t":13.8,"v":-16.5}]},"mark":{"type":"point","shape":"triangle-up","filled":true,"size":22,"color":"#1e1e1e","opacity":1}},
{"data":{"values":[{"t":13.8,"v":-7.7}]},"mark":{"type":"point","shape":"triangle-down","filled":true,"size":22,"color":"#1e1e1e","opacity":1}}
]},
{"width":422,"height":32,
"encoding":{"x":{"field":"t","type":"quantitative","scale":{"domain":[0,56.4],"nice":false,"zero":false},"axis":null},
"y":{"field":"v","type":"quantitative","scale":{"domain":[-800,1500],"reverse":true,"nice":false,"zero":false},"axis":{"orient":"right","values":[-800,1500],"labelExpr":"datum.value<0?'-800':'1500'","title":"(µV)","titleY":16,"domainColor":"#a24f31","tickColor":"#a24f31","labelColor":"#a85a3c","titleColor":"#a85a3c","domainWidth":3,"tickWidth":3}}},
"layer":[
{"data":{"name":"c3"},"mark":{"type":"line","color":"#a24f31","strokeWidth":1.8}},
{"data":{"values":[{"t":55.1,"v":-1160,"s":"Near-DC/AC-ECoG electrode 2"}]},"mark":{"type":"text","align":"right","baseline":"middle","fontSize":16.5,"fontWeight":"bold","color":"#a85a3c"},"encoding":{"text":{"field":"s"}}}
]},
{"width":422,"height":32,
"encoding":{"x":{"field":"t","type":"quantitative","scale":{"domain":[0,56.4],"nice":false,"zero":false},"axis":{"orient":"bottom","values":[0,10,20,30,40,50],"title":"Time (min)","domainColor":"#2f7a52","tickColor":"#2f7a52","labelColor":"#3b8059","titleColor":"#3b8059","domainWidth":3}},
"y":{"field":"v","type":"quantitative","scale":{"domain":[-800,1500],"reverse":true,"nice":false,"zero":false},"axis":{"orient":"right","values":[-800,1500],"labelExpr":"datum.value<0?'-800':'1500'","title":"(µV)","titleY":16,"domainColor":"#2f7a52","tickColor":"#2f7a52","labelColor":"#3b8059","titleColor":"#3b8059","domainWidth":3,"tickWidth":3}}},
"layer":[
{"data":{"name":"c4"},"mark":{"type":"line","color":"#2f7a52","strokeWidth":1.8}},
{"data":{"values":[{"t":55.1,"v":-850,"s":"Near-DC/AC-ECoG electrode 5"}]},"mark":{"type":"text","align":"right","baseline":"middle","fontSize":16.5,"fontWeight":"bold","color":"#3b8059"},"encoding":{"text":{"field":"s"}}},
{"data":{"values":[{"t":-0.7,"v":-1375,"s":"3.3 mm/min"}]},"mark":{"type":"text","align":"left","baseline":"middle","fontSize":15,"fontWeight":"bold","color":"#3b8059"},"encoding":{"text":{"field":"s"}}},
{"data":{"values":[{"t":10.0,"v":-2813,"t2":14.9,"v2":-950}]},"mark":{"type":"rule","color":"#2f7a52","strokeWidth":4},"encoding":{"x2":{"field":"t2"},"y2":{"field":"v2"}}},
{"data":{"values":[{"t":15.2,"v":-760}]},"mark":{"type":"point","shape":"triangle-up","filled":true,"size":140,"angle":127.8,"color":"#2f7a52","opacity":1}}
]}
],"spacing":23,"bounds":"flush"}
],"spacing":29}
],"spacing":30.5},
{"width":962,"height":52,
"encoding":{"x":{"field":"t","type":"quantitative","scale":{"domain":[0,20.21],"nice":false,"zero":false},"axis":{"orient":"bottom","values":[0,10,20],"title":"Time (min)","domainColor":"#3e3c72","tickColor":"#3e3c72","labelColor":"#4d4b6e","titleColor":"#4d4b6e","domainWidth":3}},
"y":{"field":"v","type":"quantitative","scale":{"domain":[-2,4],"reverse":true,"nice":false,"zero":false},"axis":{"orient":"right","values":[-2,4],"labelExpr":"datum.value<0?'-2':'4'","title":"(mV)","titleY":26,"titleX":76,"domainColor":"#3e3c72","tickColor":"#3e3c72","labelColor":"#4d4b6e","titleColor":"#4d4b6e","domainWidth":3,"tickWidth":3}}},
"layer":[
{"data":{"name":"d1"},"mark":{"type":"area","color":"#3e3c72","opacity":1,"stroke":"#3e3c72","strokeWidth":1.2},"encoding":{"y2":{"field":"v2"}}},
{"data":{"values":[{"t":19.9,"v":-2.4,"s":"Near-DC/AC-ECoG electrode 5"}]},"mark":{"type":"text","align":"right","baseline":"middle","fontSize":16,"fontWeight":"bold","color":"#3e3c72"},"encoding":{"text":{"field":"s"}}},
{"data":{"values":[{"t":-0.126,"v":-4.54,"s":"(d)"}]},"mark":{"type":"text","align":"left","baseline":"middle","fontSize":18,"color":"#222222"},"encoding":{"text":{"field":"s"}}},
{"data":{"values":[{"t":0.67,"v":-4.54,"s":"Monopolar recording: spreading convulsion"}]},"mark":{"type":"text","align":"left","baseline":"middle","fontSize":18,"fontWeight":"bold","color":"#222222"},"encoding":{"text":{"field":"s"}}},
{"data":{"values":[{"t":9.1,"v":1.0,"s":"Epileptic field potentials"}]},"mark":{"type":"text","align":"left","baseline":"middle","fontSize":17,"fontWeight":"bold","color":"#222222"},"encoding":{"text":{"field":"s"}}},
{"data":{"values":[{"t":8.85,"v":2.2,"v2":-0.7}]},"mark":{"type":"rule","color":"#1e1e1e","strokeWidth":2.5},"encoding":{"y2":{"field":"v2"}}},
{"data":{"values":[{"t":8.85,"v":-0.85}]},"mark":{"type":"point","shape":"triangle-up","filled":true,"size":65,"color":"#1e1e1e","opacity":1}}
]}
],
"config":{
"view":{"stroke":null},
"font":"Liberation Sans",
"axis":{"grid":false,"labelFont":"Liberation Sans","titleFont":"Liberation Sans","labelFontWeight":"bold","titleFontWeight":"bold","labelFontSize":12,"titleFontSize":13,"domainWidth":2,"tickWidth":2,"tickSize":6,"labelPadding":4,"labelOverlap":false,"labelFlush":false},
"axisRight":{"titleAngle":270,"titleX":72,"titleAlign":"center","titleBaseline":"middle"},
"axisBottom":{"tickSize":8,"labelPadding":5,"titlePadding":5},
"text":{"font":"Liberation Sans"}
}
}
